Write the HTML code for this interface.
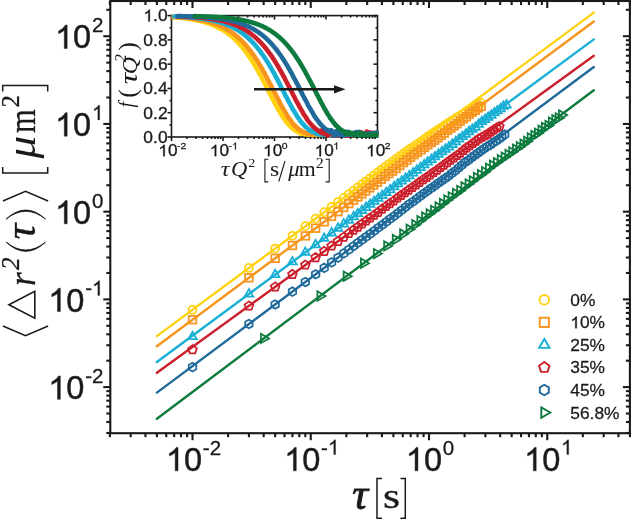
<!DOCTYPE html>
<html><head><meta charset="utf-8"><title>MSD</title>
<style>html,body{margin:0;padding:0;background:#fff}svg{display:block;will-change:transform}</style></head>
<body>
<svg width="631" height="520" viewBox="0 0 631 520">
<rect width="631" height="520" fill="#fff"/>
<line x1="156.9" y1="336.1" x2="593.8" y2="12.6" stroke="#FFD10E" stroke-width="2.4" stroke-linecap="round"/>
<line x1="156.9" y1="346.2" x2="593.8" y2="21.5" stroke="#F7941D" stroke-width="2.4" stroke-linecap="round"/>
<line x1="156.9" y1="362.0" x2="593.8" y2="39.4" stroke="#19AFD4" stroke-width="2.4" stroke-linecap="round"/>
<line x1="156.9" y1="372.7" x2="593.8" y2="55.8" stroke="#CB1F2C" stroke-width="2.4" stroke-linecap="round"/>
<line x1="156.9" y1="392.6" x2="593.8" y2="67.0" stroke="#1F6A9A" stroke-width="2.4" stroke-linecap="round"/>
<line x1="156.9" y1="418.7" x2="593.8" y2="90.3" stroke="#0D7A3E" stroke-width="2.4" stroke-linecap="round"/>
<g fill="none" stroke="#FFD10E" stroke-width="1.75" stroke-linejoin="miter">
<circle cx="192.50" cy="309.74" r="3.98"/>
<circle cx="248.92" cy="267.96" r="3.98"/>
<circle cx="275.15" cy="248.54" r="3.98"/>
<circle cx="292.43" cy="235.75" r="3.98"/>
<circle cx="305.34" cy="226.19" r="3.98"/>
<circle cx="315.64" cy="218.56" r="3.98"/>
<circle cx="324.22" cy="212.21" r="3.98"/>
<circle cx="331.57" cy="206.77" r="3.98"/>
<circle cx="338.00" cy="202.02" r="3.98"/>
<circle cx="343.71" cy="197.81" r="3.98"/>
<circle cx="348.85" cy="194.02" r="3.98"/>
<circle cx="353.52" cy="190.57" r="3.98"/>
<circle cx="357.81" cy="187.32" r="3.98"/>
<circle cx="361.79" cy="184.41" r="3.98"/>
<circle cx="365.74" cy="181.52" r="3.98"/>
<circle cx="369.65" cy="178.64" r="3.98"/>
<circle cx="373.53" cy="175.64" r="3.98"/>
<circle cx="377.38" cy="172.67" r="3.98"/>
<circle cx="381.19" cy="169.79" r="3.98"/>
<circle cx="384.96" cy="166.99" r="3.98"/>
<circle cx="388.71" cy="164.28" r="3.98"/>
<circle cx="392.42" cy="161.56" r="3.98"/>
<circle cx="396.09" cy="158.93" r="3.98"/>
<circle cx="399.73" cy="156.21" r="3.98"/>
<circle cx="403.34" cy="153.65" r="3.98"/>
<circle cx="406.92" cy="151.14" r="3.98"/>
<circle cx="410.47" cy="148.53" r="3.98"/>
<circle cx="413.98" cy="146.30" r="3.98"/>
<circle cx="417.47" cy="143.91" r="3.98"/>
<circle cx="420.92" cy="141.66" r="3.98"/>
<circle cx="424.34" cy="139.14" r="3.98"/>
<circle cx="427.73" cy="136.68" r="3.98"/>
<circle cx="431.09" cy="134.34" r="3.98"/>
<circle cx="434.42" cy="132.09" r="3.98"/>
<circle cx="437.72" cy="130.02" r="3.98"/>
<circle cx="440.99" cy="127.90" r="3.98"/>
<circle cx="444.24" cy="125.68" r="3.98"/>
<circle cx="447.45" cy="123.42" r="3.98"/>
<circle cx="450.63" cy="121.31" r="3.98"/>
<circle cx="453.79" cy="119.61" r="3.98"/>
<circle cx="456.92" cy="117.47" r="3.98"/>
<circle cx="460.02" cy="115.62" r="3.98"/>
<circle cx="463.09" cy="113.83" r="3.98"/>
<circle cx="466.13" cy="111.63" r="3.98"/>
<circle cx="469.15" cy="109.88" r="3.98"/>
<circle cx="472.14" cy="108.44" r="3.98"/>
<circle cx="475.10" cy="106.18" r="3.98"/>
<circle cx="478.04" cy="104.45" r="3.98"/>
<circle cx="480.95" cy="102.81" r="3.98"/>
</g>
<g fill="none" stroke="#F7941D" stroke-width="1.75" stroke-linejoin="miter">
<rect x="188.68" y="315.92" width="7.64" height="7.64"/>
<rect x="245.10" y="273.99" width="7.64" height="7.64"/>
<rect x="271.34" y="254.50" width="7.64" height="7.64"/>
<rect x="288.61" y="241.66" width="7.64" height="7.64"/>
<rect x="301.52" y="232.06" width="7.64" height="7.64"/>
<rect x="311.83" y="224.40" width="7.64" height="7.64"/>
<rect x="320.41" y="218.03" width="7.64" height="7.64"/>
<rect x="327.75" y="212.57" width="7.64" height="7.64"/>
<rect x="334.18" y="207.82" width="7.64" height="7.64"/>
<rect x="339.89" y="203.59" width="7.64" height="7.64"/>
<rect x="345.03" y="199.73" width="7.64" height="7.64"/>
<rect x="349.71" y="196.28" width="7.64" height="7.64"/>
<rect x="353.99" y="193.07" width="7.64" height="7.64"/>
<rect x="357.98" y="190.08" width="7.64" height="7.64"/>
<rect x="361.93" y="187.07" width="7.64" height="7.64"/>
<rect x="365.85" y="184.11" width="7.64" height="7.64"/>
<rect x="369.74" y="181.20" width="7.64" height="7.64"/>
<rect x="373.59" y="178.46" width="7.64" height="7.64"/>
<rect x="377.40" y="175.46" width="7.64" height="7.64"/>
<rect x="381.18" y="172.55" width="7.64" height="7.64"/>
<rect x="384.93" y="169.83" width="7.64" height="7.64"/>
<rect x="388.64" y="167.26" width="7.64" height="7.64"/>
<rect x="392.33" y="164.59" width="7.64" height="7.64"/>
<rect x="395.97" y="161.66" width="7.64" height="7.64"/>
<rect x="399.59" y="158.70" width="7.64" height="7.64"/>
<rect x="403.17" y="156.16" width="7.64" height="7.64"/>
<rect x="406.72" y="153.48" width="7.64" height="7.64"/>
<rect x="410.24" y="150.78" width="7.64" height="7.64"/>
<rect x="413.73" y="148.41" width="7.64" height="7.64"/>
<rect x="417.19" y="146.05" width="7.64" height="7.64"/>
<rect x="420.62" y="143.53" width="7.64" height="7.64"/>
<rect x="424.01" y="141.05" width="7.64" height="7.64"/>
<rect x="427.38" y="138.62" width="7.64" height="7.64"/>
<rect x="430.71" y="136.40" width="7.64" height="7.64"/>
<rect x="434.02" y="133.99" width="7.64" height="7.64"/>
<rect x="437.29" y="131.58" width="7.64" height="7.64"/>
<rect x="440.54" y="129.20" width="7.64" height="7.64"/>
<rect x="443.76" y="126.43" width="7.64" height="7.64"/>
<rect x="446.95" y="124.33" width="7.64" height="7.64"/>
<rect x="450.11" y="122.17" width="7.64" height="7.64"/>
<rect x="453.24" y="119.94" width="7.64" height="7.64"/>
<rect x="456.35" y="117.20" width="7.64" height="7.64"/>
<rect x="459.42" y="114.87" width="7.64" height="7.64"/>
<rect x="462.47" y="112.91" width="7.64" height="7.64"/>
<rect x="465.50" y="110.35" width="7.64" height="7.64"/>
<rect x="468.49" y="108.25" width="7.64" height="7.64"/>
<rect x="471.46" y="106.47" width="7.64" height="7.64"/>
<rect x="474.40" y="104.10" width="7.64" height="7.64"/>
<rect x="477.32" y="102.53" width="7.64" height="7.64"/>
</g>
<g fill="none" stroke="#19AFD4" stroke-width="1.75" stroke-linejoin="miter">
<polygon points="192.50,331.73 188.19,339.20 196.81,339.20"/>
<polygon points="248.92,289.07 244.61,296.54 253.23,296.54"/>
<polygon points="275.15,269.70 270.84,277.17 279.47,277.17"/>
<polygon points="292.43,256.94 288.12,264.41 296.75,264.41"/>
<polygon points="305.34,247.41 301.03,254.88 309.65,254.88"/>
<polygon points="315.64,239.81 311.33,247.28 319.96,247.28"/>
<polygon points="324.22,233.47 319.91,240.94 328.54,240.94"/>
<polygon points="331.57,228.05 327.26,235.52 335.89,235.52"/>
<polygon points="338.00,223.32 333.69,230.79 342.31,230.79"/>
<polygon points="343.71,219.10 339.40,226.57 348.03,226.57"/>
<polygon points="348.85,215.28 344.54,222.75 353.17,222.75"/>
<polygon points="353.52,211.87 349.21,219.34 357.84,219.34"/>
<polygon points="357.81,208.77 353.49,216.24 362.12,216.24"/>
<polygon points="361.97,205.67 357.65,213.14 366.28,213.14"/>
<polygon points="366.09,202.54 361.78,210.01 370.40,210.01"/>
<polygon points="370.18,199.51 365.87,206.98 374.50,206.98"/>
<polygon points="374.24,196.50 369.93,203.97 378.56,203.97"/>
<polygon points="378.27,193.51 373.96,200.98 382.58,200.98"/>
<polygon points="382.26,190.69 377.95,198.16 386.58,198.16"/>
<polygon points="386.23,187.66 381.91,195.13 390.54,195.13"/>
<polygon points="390.16,184.89 385.84,192.36 394.47,192.36"/>
<polygon points="394.05,181.86 389.74,189.33 398.37,189.33"/>
<polygon points="397.92,178.92 393.61,186.39 402.23,186.39"/>
<polygon points="401.76,176.19 397.44,183.66 406.07,183.66"/>
<polygon points="405.56,173.52 401.25,180.99 409.87,180.99"/>
<polygon points="409.33,170.83 405.02,178.30 413.65,178.30"/>
<polygon points="413.08,168.08 408.76,175.55 417.39,175.55"/>
<polygon points="416.79,165.32 412.48,172.79 421.10,172.79"/>
<polygon points="420.47,162.59 416.16,170.06 424.79,170.06"/>
<polygon points="424.13,159.95 419.81,167.42 428.44,167.42"/>
<polygon points="427.75,157.21 423.44,164.68 432.06,164.68"/>
<polygon points="431.35,154.57 427.03,162.04 435.66,162.04"/>
<polygon points="434.91,152.00 430.60,159.47 439.22,159.47"/>
<polygon points="438.45,149.34 434.14,156.81 442.76,156.81"/>
<polygon points="441.96,146.86 437.64,154.33 446.27,154.33"/>
<polygon points="445.44,144.34 441.12,151.81 449.75,151.81"/>
<polygon points="448.89,142.12 444.58,149.59 453.20,149.59"/>
<polygon points="452.31,139.53 448.00,147.00 456.63,147.00"/>
<polygon points="455.71,136.82 451.40,144.29 460.02,144.29"/>
<polygon points="459.08,134.18 454.77,141.65 463.39,141.65"/>
<polygon points="462.42,131.66 458.11,139.13 466.73,139.13"/>
<polygon points="465.74,129.37 461.42,136.84 470.05,136.84"/>
<polygon points="469.02,126.80 464.71,134.27 473.34,134.27"/>
<polygon points="472.28,124.44 467.97,131.91 476.60,131.91"/>
<polygon points="475.52,122.45 471.21,129.92 479.83,129.92"/>
<polygon points="478.73,119.35 474.42,126.82 483.04,126.82"/>
<polygon points="481.91,116.77 477.60,124.24 486.23,124.24"/>
<polygon points="485.07,114.60 480.76,122.07 489.38,122.07"/>
<polygon points="488.20,112.47 483.89,119.94 492.51,119.94"/>
<polygon points="491.31,110.30 487.00,117.77 495.62,117.77"/>
<polygon points="494.39,107.96 490.08,115.43 498.70,115.43"/>
<polygon points="497.45,105.96 493.13,113.43 501.76,113.43"/>
<polygon points="500.48,103.85 496.17,111.32 504.79,111.32"/>
<polygon points="503.49,101.51 499.17,108.98 507.80,108.98"/>
<polygon points="506.47,100.09 502.16,107.56 510.78,107.56"/>
</g>
<g fill="none" stroke="#CB1F2C" stroke-width="1.75" stroke-linejoin="miter">
<polygon points="192.50,345.11 188.16,348.27 189.82,353.37 195.18,353.37 196.84,348.27"/>
<polygon points="248.92,301.39 244.58,304.54 246.24,309.65 251.60,309.65 253.26,304.54"/>
<polygon points="275.15,282.36 270.81,285.52 272.47,290.62 277.84,290.62 279.49,285.52"/>
<polygon points="292.43,269.83 288.09,272.98 289.75,278.09 295.12,278.09 296.77,272.98"/>
<polygon points="305.34,260.47 301.00,263.62 302.66,268.72 308.02,268.72 309.68,263.62"/>
<polygon points="315.64,252.99 311.30,256.15 312.96,261.25 318.33,261.25 319.99,256.15"/>
<polygon points="324.22,246.77 319.88,249.92 321.54,255.03 326.91,255.03 328.57,249.92"/>
<polygon points="331.57,241.43 327.23,244.59 328.89,249.69 334.26,249.69 335.91,244.59"/>
<polygon points="338.00,236.75 333.66,239.90 335.32,245.00 340.68,245.00 342.34,239.90"/>
<polygon points="343.71,232.59 339.37,235.74 341.03,240.85 346.40,240.85 348.05,235.74"/>
<polygon points="348.85,228.89 344.51,232.04 346.17,237.15 351.54,237.15 353.19,232.04"/>
<polygon points="353.52,225.53 349.18,228.69 350.84,233.79 356.21,233.79 357.87,228.69"/>
<polygon points="357.81,222.49 353.46,225.65 355.12,230.75 360.49,230.75 362.15,225.65"/>
<polygon points="361.94,219.40 357.59,222.56 359.25,227.66 364.62,227.66 366.28,222.56"/>
<polygon points="366.03,216.42 361.68,219.57 363.34,224.67 368.71,224.67 370.37,219.57"/>
<polygon points="370.08,213.46 365.74,216.61 367.40,221.71 372.76,221.71 374.42,216.61"/>
<polygon points="374.10,210.59 369.75,213.75 371.41,218.85 376.78,218.85 378.44,213.75"/>
<polygon points="378.08,207.79 373.73,210.95 375.39,216.05 380.76,216.05 382.42,210.95"/>
<polygon points="382.02,204.69 377.68,207.85 379.34,212.95 384.70,212.95 386.36,207.85"/>
<polygon points="385.92,201.98 381.58,205.14 383.24,210.24 388.61,210.24 390.27,205.14"/>
<polygon points="389.80,199.04 385.45,202.19 387.11,207.29 392.48,207.29 394.14,202.19"/>
<polygon points="393.63,196.35 389.29,199.51 390.95,204.61 396.31,204.61 397.97,199.51"/>
<polygon points="397.43,193.44 393.09,196.59 394.75,201.70 400.11,201.70 401.77,196.59"/>
<polygon points="401.20,190.77 396.85,193.92 398.51,199.02 403.88,199.02 405.54,193.92"/>
<polygon points="404.93,188.23 400.59,191.39 402.24,196.49 407.61,196.49 409.27,191.39"/>
<polygon points="408.62,185.53 404.28,188.69 405.94,193.79 411.31,193.79 412.96,188.69"/>
<polygon points="412.29,182.91 407.94,186.06 409.60,191.16 414.97,191.16 416.63,186.06"/>
<polygon points="415.91,180.38 411.57,183.54 413.23,188.64 418.60,188.64 420.26,183.54"/>
<polygon points="419.51,177.78 415.17,180.93 416.83,186.04 422.19,186.04 423.85,180.93"/>
<polygon points="423.07,175.16 418.73,178.31 420.39,183.42 425.76,183.42 427.41,178.31"/>
<polygon points="426.60,172.83 422.26,175.98 423.92,181.09 429.29,181.09 430.94,175.98"/>
<polygon points="430.10,170.41 425.76,173.56 427.42,178.67 432.78,178.67 434.44,173.56"/>
<polygon points="433.56,167.77 429.22,170.92 430.88,176.03 436.25,176.03 437.91,170.92"/>
<polygon points="437.00,165.71 432.66,168.86 434.31,173.97 439.68,173.97 441.34,168.86"/>
<polygon points="440.40,162.90 436.06,166.06 437.72,171.16 443.08,171.16 444.74,166.06"/>
<polygon points="443.77,160.56 439.43,163.71 441.09,168.82 446.45,168.82 448.11,163.71"/>
<polygon points="447.11,158.00 442.77,161.15 444.43,166.26 449.79,166.26 451.45,161.15"/>
<polygon points="450.42,155.56 446.08,158.71 447.74,163.82 453.10,163.82 454.76,158.71"/>
<polygon points="453.70,153.27 449.36,156.42 451.02,161.53 456.38,161.53 458.04,156.42"/>
<polygon points="456.95,150.88 452.61,154.04 454.26,159.14 459.63,159.14 461.29,154.04"/>
<polygon points="460.17,148.62 455.82,151.77 457.48,156.87 462.85,156.87 464.51,151.77"/>
<polygon points="463.35,145.89 459.01,149.04 460.67,154.14 466.04,154.14 467.70,149.04"/>
<polygon points="466.51,143.25 462.17,146.40 463.83,151.51 469.20,151.51 470.86,146.40"/>
<polygon points="469.65,141.21 465.30,144.36 466.96,149.46 472.33,149.46 473.99,144.36"/>
<polygon points="472.75,138.84 468.41,142.00 470.06,147.10 475.43,147.10 477.09,142.00"/>
<polygon points="475.82,136.56 471.48,139.72 473.14,144.82 478.51,144.82 480.16,139.72"/>
<polygon points="478.87,134.25 474.53,137.40 476.18,142.51 481.55,142.51 483.21,137.40"/>
<polygon points="481.88,132.71 477.54,135.87 479.20,140.97 484.57,140.97 486.23,135.87"/>
<polygon points="484.87,131.01 480.53,134.16 482.19,139.27 487.56,139.27 489.22,134.16"/>
<polygon points="487.84,129.49 483.50,132.65 485.15,137.75 490.52,137.75 492.18,132.65"/>
<polygon points="490.77,127.31 486.43,130.47 488.09,135.57 493.46,135.57 495.11,130.47"/>
<polygon points="493.68,125.48 489.34,128.63 491.00,133.73 496.36,133.73 498.02,128.63"/>
<polygon points="496.56,123.36 492.22,126.51 493.88,131.62 499.25,131.62 500.90,126.51"/>
<polygon points="499.42,121.86 495.08,125.02 496.73,130.12 502.10,130.12 503.76,125.02"/>
</g>
<g fill="none" stroke="#1F6A9A" stroke-width="1.75" stroke-linejoin="miter">
<polygon points="192.50,362.75 188.76,364.91 188.76,369.23 192.50,371.39 196.24,369.23 196.24,364.91"/>
<polygon points="248.92,319.71 245.18,321.86 245.18,326.18 248.92,328.34 252.66,326.18 252.66,321.86"/>
<polygon points="275.15,300.16 271.42,302.31 271.42,306.63 275.15,308.79 278.89,306.63 278.89,302.31"/>
<polygon points="292.43,287.28 288.70,289.44 288.70,293.75 292.43,295.91 296.17,293.75 296.17,289.44"/>
<polygon points="305.34,277.66 301.60,279.82 301.60,284.13 305.34,286.29 309.08,284.13 309.08,279.82"/>
<polygon points="315.64,269.98 311.91,272.14 311.91,276.45 315.64,278.61 319.38,276.45 319.38,272.14"/>
<polygon points="324.22,263.59 320.49,265.74 320.49,270.06 324.22,272.22 327.96,270.06 327.96,265.74"/>
<polygon points="331.57,258.11 327.84,260.27 327.84,264.58 331.57,266.74 335.31,264.58 335.31,260.27"/>
<polygon points="338.00,253.32 334.26,255.48 334.26,259.79 338.00,261.95 341.74,259.79 341.74,255.48"/>
<polygon points="343.71,249.07 339.97,251.23 339.97,255.54 343.71,257.70 347.45,255.54 347.45,251.23"/>
<polygon points="348.85,245.25 345.11,247.41 345.11,251.73 348.85,253.89 352.59,251.73 352.59,247.41"/>
<polygon points="353.52,241.83 349.79,243.99 349.79,248.30 353.52,250.46 357.26,248.30 357.26,243.99"/>
<polygon points="357.81,238.59 354.07,240.75 354.07,245.06 357.81,247.22 361.54,245.06 361.54,240.75"/>
<polygon points="361.98,235.53 358.24,237.69 358.24,242.01 361.98,244.17 365.72,242.01 365.72,237.69"/>
<polygon points="366.12,232.53 362.38,234.69 362.38,239.01 366.12,241.16 369.85,239.01 369.85,234.69"/>
<polygon points="370.22,229.55 366.48,231.71 366.48,236.03 370.22,238.19 373.95,236.03 373.95,231.71"/>
<polygon points="374.28,226.48 370.54,228.64 370.54,232.96 374.28,235.12 378.02,232.96 378.02,228.64"/>
<polygon points="378.31,223.40 374.57,225.56 374.57,229.87 378.31,232.03 382.04,229.87 382.04,225.56"/>
<polygon points="382.30,220.50 378.56,222.65 378.56,226.97 382.30,229.13 386.04,226.97 386.04,222.65"/>
<polygon points="386.25,217.53 382.52,219.69 382.52,224.00 386.25,226.16 389.99,224.00 389.99,219.69"/>
<polygon points="390.18,214.60 386.44,216.75 386.44,221.07 390.18,223.23 393.91,221.07 393.91,216.75"/>
<polygon points="394.06,211.83 390.33,213.98 390.33,218.30 394.06,220.46 397.80,218.30 397.80,213.98"/>
<polygon points="397.92,208.88 394.18,211.04 394.18,215.36 397.92,217.51 401.65,215.36 401.65,211.04"/>
<polygon points="401.73,205.73 398.00,207.89 398.00,212.21 401.73,214.36 405.47,212.21 405.47,207.89"/>
<polygon points="405.52,202.88 401.78,205.03 401.78,209.35 405.52,211.51 409.26,209.35 409.26,205.03"/>
<polygon points="409.27,199.86 405.53,202.02 405.53,206.33 409.27,208.49 413.01,206.33 413.01,202.02"/>
<polygon points="412.99,197.26 409.25,199.41 409.25,203.73 412.99,205.89 416.72,203.73 416.72,199.41"/>
<polygon points="416.67,194.59 412.93,196.74 412.93,201.06 416.67,203.22 420.41,201.06 420.41,196.74"/>
<polygon points="420.32,191.79 416.59,193.95 416.59,198.26 420.32,200.42 424.06,198.26 424.06,193.95"/>
<polygon points="423.94,189.12 420.21,191.28 420.21,195.59 423.94,197.75 427.68,195.59 427.68,191.28"/>
<polygon points="427.53,186.60 423.79,188.76 423.79,193.08 427.53,195.24 431.27,193.08 431.27,188.76"/>
<polygon points="431.09,183.97 427.35,186.12 427.35,190.44 431.09,192.60 434.83,190.44 434.83,186.12"/>
<polygon points="434.61,181.56 430.88,183.72 430.88,188.04 434.61,190.20 438.35,188.04 438.35,183.72"/>
<polygon points="438.11,178.91 434.37,181.06 434.37,185.38 438.11,187.54 441.84,185.38 441.84,181.06"/>
<polygon points="441.57,176.48 437.83,178.64 437.83,182.96 441.57,185.12 445.31,182.96 445.31,178.64"/>
<polygon points="445.00,174.15 441.26,176.31 441.26,180.62 445.00,182.78 448.74,180.62 448.74,176.31"/>
<polygon points="448.40,171.83 444.67,173.98 444.67,178.30 448.40,180.46 452.14,178.30 452.14,173.98"/>
<polygon points="451.78,169.04 448.04,171.20 448.04,175.51 451.78,177.67 455.51,175.51 455.51,171.20"/>
<polygon points="455.12,166.64 451.38,168.80 451.38,173.11 455.12,175.27 458.85,173.11 458.85,168.80"/>
<polygon points="458.43,163.67 454.69,165.82 454.69,170.14 458.43,172.30 462.17,170.14 462.17,165.82"/>
<polygon points="461.71,160.97 457.97,163.12 457.97,167.44 461.71,169.60 465.45,167.44 465.45,163.12"/>
<polygon points="464.97,158.13 461.23,160.29 461.23,164.61 464.97,166.77 468.70,164.61 468.70,160.29"/>
<polygon points="468.19,156.08 464.45,158.23 464.45,162.55 468.19,164.71 471.93,162.55 471.93,158.23"/>
<polygon points="471.39,153.45 467.65,155.60 467.65,159.92 471.39,162.08 475.13,159.92 475.13,155.60"/>
<polygon points="474.56,151.18 470.82,153.34 470.82,157.65 474.56,159.81 478.29,157.65 478.29,153.34"/>
<polygon points="477.70,148.91 473.96,151.07 473.96,155.38 477.70,157.54 481.43,155.38 481.43,151.07"/>
<polygon points="480.81,146.72 477.07,148.88 477.07,153.20 480.81,155.35 484.55,153.20 484.55,148.88"/>
<polygon points="483.89,144.42 480.16,146.58 480.16,150.89 483.89,153.05 487.63,150.89 487.63,146.58"/>
<polygon points="486.95,142.38 483.21,144.54 483.21,148.85 486.95,151.01 490.69,148.85 490.69,144.54"/>
<polygon points="489.98,140.76 486.24,142.92 486.24,147.23 489.98,149.39 493.72,147.23 493.72,142.92"/>
<polygon points="492.99,138.62 489.25,140.77 489.25,145.09 492.99,147.25 496.72,145.09 496.72,140.77"/>
<polygon points="495.96,136.64 492.22,138.80 492.22,143.12 495.96,145.27 499.70,143.12 499.70,138.80"/>
<polygon points="498.91,134.81 495.18,136.97 495.18,141.29 498.91,143.44 502.65,141.29 502.65,136.97"/>
<polygon points="501.84,132.64 498.10,134.79 498.10,139.11 501.84,141.27 505.58,139.11 505.58,134.79"/>
<polygon points="504.74,130.21 501.00,132.37 501.00,136.68 504.74,138.84 508.47,136.68 508.47,132.37"/>
</g>
<g fill="none" stroke="#0D7A3E" stroke-width="1.75" stroke-linejoin="miter">
<polygon points="269.09,338.43 260.99,333.75 260.99,343.10"/>
<polygon points="325.51,296.02 317.41,291.34 317.41,300.70"/>
<polygon points="351.75,276.27 343.65,271.59 343.65,280.95"/>
<polygon points="369.03,263.23 360.93,258.55 360.93,267.90"/>
<polygon points="381.93,253.60 373.83,248.92 373.83,258.27"/>
<polygon points="392.24,245.92 384.14,241.25 384.14,250.60"/>
<polygon points="400.82,239.47 392.72,234.79 392.72,244.15"/>
<polygon points="408.17,234.04 400.07,229.36 400.07,238.71"/>
<polygon points="414.59,229.21 406.49,224.53 406.49,233.89"/>
<polygon points="420.31,224.73 412.21,220.05 412.21,229.41"/>
<polygon points="425.45,220.64 417.35,215.96 417.35,225.32"/>
<polygon points="430.12,217.07 422.02,212.39 422.02,221.75"/>
<polygon points="434.65,213.87 426.55,209.19 426.55,218.55"/>
<polygon points="439.13,210.42 431.03,205.74 431.03,215.10"/>
<polygon points="443.58,206.95 435.48,202.27 435.48,211.62"/>
<polygon points="447.99,203.54 439.89,198.87 439.89,208.22"/>
<polygon points="452.36,200.03 444.26,195.36 444.26,204.71"/>
<polygon points="456.69,196.86 448.59,192.19 448.59,201.54"/>
<polygon points="460.99,193.49 452.89,188.81 452.89,198.16"/>
<polygon points="465.25,190.49 457.15,185.81 457.15,195.16"/>
<polygon points="469.47,186.88 461.37,182.20 461.37,191.56"/>
<polygon points="473.65,183.97 465.55,179.30 465.55,188.65"/>
<polygon points="477.79,180.83 469.69,176.15 469.69,185.51"/>
<polygon points="481.90,177.40 473.80,172.72 473.80,182.08"/>
<polygon points="485.98,174.71 477.88,170.03 477.88,179.38"/>
<polygon points="490.02,171.73 481.92,167.05 481.92,176.40"/>
<polygon points="494.02,168.25 485.92,163.57 485.92,172.93"/>
<polygon points="497.99,165.23 489.89,160.56 489.89,169.91"/>
<polygon points="501.92,162.56 493.82,157.89 493.82,167.24"/>
<polygon points="505.82,159.66 497.72,154.98 497.72,164.34"/>
<polygon points="509.68,157.13 501.58,152.45 501.58,161.81"/>
<polygon points="513.51,154.55 505.41,149.88 505.41,159.23"/>
<polygon points="517.31,151.93 509.21,147.25 509.21,156.60"/>
<polygon points="521.07,149.19 512.97,144.51 512.97,153.86"/>
<polygon points="524.80,146.77 516.70,142.09 516.70,151.44"/>
<polygon points="528.50,144.10 520.40,139.42 520.40,148.77"/>
<polygon points="532.17,141.37 524.07,136.69 524.07,146.04"/>
<polygon points="535.80,137.82 527.70,133.15 527.70,142.50"/>
<polygon points="539.40,135.44 531.30,130.76 531.30,140.12"/>
<polygon points="542.97,133.17 534.87,128.49 534.87,137.85"/>
<polygon points="546.51,130.29 538.41,125.62 538.41,134.97"/>
<polygon points="550.02,127.42 541.92,122.74 541.92,132.09"/>
<polygon points="553.50,125.47 545.40,120.80 545.40,130.15"/>
<polygon points="556.94,122.09 548.84,117.41 548.84,126.76"/>
<polygon points="560.36,119.69 552.26,115.01 552.26,124.37"/>
<polygon points="563.75,118.02 555.65,113.34 555.65,122.69"/>
<polygon points="567.10,114.94 559.00,110.26 559.00,119.62"/>
</g>
<g stroke="#1a1a1a" stroke-width="2.1" fill="none">
<rect x="110.3" y="1.0" width="519.6" height="432.2"/>
<line x1="109.85" y1="433.2" x2="109.85" y2="437.2"/>
<line x1="109.85" y1="1.0" x2="109.85" y2="5.0"/>
<line x1="130.67" y1="433.2" x2="130.67" y2="437.2"/>
<line x1="130.67" y1="1.0" x2="130.67" y2="5.0"/>
<line x1="145.44" y1="433.2" x2="145.44" y2="437.2"/>
<line x1="145.44" y1="1.0" x2="145.44" y2="5.0"/>
<line x1="156.90" y1="433.2" x2="156.90" y2="437.2"/>
<line x1="156.90" y1="1.0" x2="156.90" y2="5.0"/>
<line x1="166.27" y1="433.2" x2="166.27" y2="437.2"/>
<line x1="166.27" y1="1.0" x2="166.27" y2="5.0"/>
<line x1="174.18" y1="433.2" x2="174.18" y2="437.2"/>
<line x1="174.18" y1="1.0" x2="174.18" y2="5.0"/>
<line x1="181.04" y1="433.2" x2="181.04" y2="437.2"/>
<line x1="181.04" y1="1.0" x2="181.04" y2="5.0"/>
<line x1="187.09" y1="433.2" x2="187.09" y2="437.2"/>
<line x1="187.09" y1="1.0" x2="187.09" y2="5.0"/>
<line x1="192.50" y1="433.2" x2="192.50" y2="440.2"/>
<line x1="192.50" y1="1.0" x2="192.50" y2="8.0"/>
<line x1="228.10" y1="433.2" x2="228.10" y2="437.2"/>
<line x1="228.10" y1="1.0" x2="228.10" y2="5.0"/>
<line x1="248.92" y1="433.2" x2="248.92" y2="437.2"/>
<line x1="248.92" y1="1.0" x2="248.92" y2="5.0"/>
<line x1="263.69" y1="433.2" x2="263.69" y2="437.2"/>
<line x1="263.69" y1="1.0" x2="263.69" y2="5.0"/>
<line x1="275.15" y1="433.2" x2="275.15" y2="437.2"/>
<line x1="275.15" y1="1.0" x2="275.15" y2="5.0"/>
<line x1="284.52" y1="433.2" x2="284.52" y2="437.2"/>
<line x1="284.52" y1="1.0" x2="284.52" y2="5.0"/>
<line x1="292.43" y1="433.2" x2="292.43" y2="437.2"/>
<line x1="292.43" y1="1.0" x2="292.43" y2="5.0"/>
<line x1="299.29" y1="433.2" x2="299.29" y2="437.2"/>
<line x1="299.29" y1="1.0" x2="299.29" y2="5.0"/>
<line x1="305.34" y1="433.2" x2="305.34" y2="437.2"/>
<line x1="305.34" y1="1.0" x2="305.34" y2="5.0"/>
<line x1="310.75" y1="433.2" x2="310.75" y2="440.2"/>
<line x1="310.75" y1="1.0" x2="310.75" y2="8.0"/>
<line x1="346.35" y1="433.2" x2="346.35" y2="437.2"/>
<line x1="346.35" y1="1.0" x2="346.35" y2="5.0"/>
<line x1="367.17" y1="433.2" x2="367.17" y2="437.2"/>
<line x1="367.17" y1="1.0" x2="367.17" y2="5.0"/>
<line x1="381.94" y1="433.2" x2="381.94" y2="437.2"/>
<line x1="381.94" y1="1.0" x2="381.94" y2="5.0"/>
<line x1="393.40" y1="433.2" x2="393.40" y2="437.2"/>
<line x1="393.40" y1="1.0" x2="393.40" y2="5.0"/>
<line x1="402.77" y1="433.2" x2="402.77" y2="437.2"/>
<line x1="402.77" y1="1.0" x2="402.77" y2="5.0"/>
<line x1="410.68" y1="433.2" x2="410.68" y2="437.2"/>
<line x1="410.68" y1="1.0" x2="410.68" y2="5.0"/>
<line x1="417.54" y1="433.2" x2="417.54" y2="437.2"/>
<line x1="417.54" y1="1.0" x2="417.54" y2="5.0"/>
<line x1="423.59" y1="433.2" x2="423.59" y2="437.2"/>
<line x1="423.59" y1="1.0" x2="423.59" y2="5.0"/>
<line x1="429.00" y1="433.2" x2="429.00" y2="440.2"/>
<line x1="429.00" y1="1.0" x2="429.00" y2="8.0"/>
<line x1="464.60" y1="433.2" x2="464.60" y2="437.2"/>
<line x1="464.60" y1="1.0" x2="464.60" y2="5.0"/>
<line x1="485.42" y1="433.2" x2="485.42" y2="437.2"/>
<line x1="485.42" y1="1.0" x2="485.42" y2="5.0"/>
<line x1="500.19" y1="433.2" x2="500.19" y2="437.2"/>
<line x1="500.19" y1="1.0" x2="500.19" y2="5.0"/>
<line x1="511.65" y1="433.2" x2="511.65" y2="437.2"/>
<line x1="511.65" y1="1.0" x2="511.65" y2="5.0"/>
<line x1="521.02" y1="433.2" x2="521.02" y2="437.2"/>
<line x1="521.02" y1="1.0" x2="521.02" y2="5.0"/>
<line x1="528.93" y1="433.2" x2="528.93" y2="437.2"/>
<line x1="528.93" y1="1.0" x2="528.93" y2="5.0"/>
<line x1="535.79" y1="433.2" x2="535.79" y2="437.2"/>
<line x1="535.79" y1="1.0" x2="535.79" y2="5.0"/>
<line x1="541.84" y1="433.2" x2="541.84" y2="437.2"/>
<line x1="541.84" y1="1.0" x2="541.84" y2="5.0"/>
<line x1="547.25" y1="433.2" x2="547.25" y2="440.2"/>
<line x1="547.25" y1="1.0" x2="547.25" y2="8.0"/>
<line x1="582.85" y1="433.2" x2="582.85" y2="437.2"/>
<line x1="582.85" y1="1.0" x2="582.85" y2="5.0"/>
<line x1="603.67" y1="433.2" x2="603.67" y2="437.2"/>
<line x1="603.67" y1="1.0" x2="603.67" y2="5.0"/>
<line x1="618.44" y1="433.2" x2="618.44" y2="437.2"/>
<line x1="618.44" y1="1.0" x2="618.44" y2="5.0"/>
<line x1="629.90" y1="433.2" x2="629.90" y2="437.2"/>
<line x1="629.90" y1="1.0" x2="629.90" y2="5.0"/>
<line x1="110.3" y1="432.97" x2="106.3" y2="432.97"/>
<line x1="629.9" y1="432.97" x2="625.9" y2="432.97"/>
<line x1="110.3" y1="422.01" x2="106.3" y2="422.01"/>
<line x1="629.9" y1="422.01" x2="625.9" y2="422.01"/>
<line x1="110.3" y1="413.51" x2="106.3" y2="413.51"/>
<line x1="629.9" y1="413.51" x2="625.9" y2="413.51"/>
<line x1="110.3" y1="406.56" x2="106.3" y2="406.56"/>
<line x1="629.9" y1="406.56" x2="625.9" y2="406.56"/>
<line x1="110.3" y1="400.69" x2="106.3" y2="400.69"/>
<line x1="629.9" y1="400.69" x2="625.9" y2="400.69"/>
<line x1="110.3" y1="395.60" x2="106.3" y2="395.60"/>
<line x1="629.9" y1="395.60" x2="625.9" y2="395.60"/>
<line x1="110.3" y1="391.11" x2="106.3" y2="391.11"/>
<line x1="629.9" y1="391.11" x2="625.9" y2="391.11"/>
<line x1="110.3" y1="387.10" x2="103.3" y2="387.10"/>
<line x1="629.9" y1="387.10" x2="622.9" y2="387.10"/>
<line x1="110.3" y1="360.69" x2="106.3" y2="360.69"/>
<line x1="629.9" y1="360.69" x2="625.9" y2="360.69"/>
<line x1="110.3" y1="345.25" x2="106.3" y2="345.25"/>
<line x1="629.9" y1="345.25" x2="625.9" y2="345.25"/>
<line x1="110.3" y1="334.29" x2="106.3" y2="334.29"/>
<line x1="629.9" y1="334.29" x2="625.9" y2="334.29"/>
<line x1="110.3" y1="325.79" x2="106.3" y2="325.79"/>
<line x1="629.9" y1="325.79" x2="625.9" y2="325.79"/>
<line x1="110.3" y1="318.84" x2="106.3" y2="318.84"/>
<line x1="629.9" y1="318.84" x2="625.9" y2="318.84"/>
<line x1="110.3" y1="312.97" x2="106.3" y2="312.97"/>
<line x1="629.9" y1="312.97" x2="625.9" y2="312.97"/>
<line x1="110.3" y1="307.88" x2="106.3" y2="307.88"/>
<line x1="629.9" y1="307.88" x2="625.9" y2="307.88"/>
<line x1="110.3" y1="303.39" x2="106.3" y2="303.39"/>
<line x1="629.9" y1="303.39" x2="625.9" y2="303.39"/>
<line x1="110.3" y1="299.38" x2="103.3" y2="299.38"/>
<line x1="629.9" y1="299.38" x2="622.9" y2="299.38"/>
<line x1="110.3" y1="272.97" x2="106.3" y2="272.97"/>
<line x1="629.9" y1="272.97" x2="625.9" y2="272.97"/>
<line x1="110.3" y1="257.53" x2="106.3" y2="257.53"/>
<line x1="629.9" y1="257.53" x2="625.9" y2="257.53"/>
<line x1="110.3" y1="246.57" x2="106.3" y2="246.57"/>
<line x1="629.9" y1="246.57" x2="625.9" y2="246.57"/>
<line x1="110.3" y1="238.07" x2="106.3" y2="238.07"/>
<line x1="629.9" y1="238.07" x2="625.9" y2="238.07"/>
<line x1="110.3" y1="231.12" x2="106.3" y2="231.12"/>
<line x1="629.9" y1="231.12" x2="625.9" y2="231.12"/>
<line x1="110.3" y1="225.25" x2="106.3" y2="225.25"/>
<line x1="629.9" y1="225.25" x2="625.9" y2="225.25"/>
<line x1="110.3" y1="220.16" x2="106.3" y2="220.16"/>
<line x1="629.9" y1="220.16" x2="625.9" y2="220.16"/>
<line x1="110.3" y1="215.67" x2="106.3" y2="215.67"/>
<line x1="629.9" y1="215.67" x2="625.9" y2="215.67"/>
<line x1="110.3" y1="211.66" x2="103.3" y2="211.66"/>
<line x1="629.9" y1="211.66" x2="622.9" y2="211.66"/>
<line x1="110.3" y1="185.25" x2="106.3" y2="185.25"/>
<line x1="629.9" y1="185.25" x2="625.9" y2="185.25"/>
<line x1="110.3" y1="169.81" x2="106.3" y2="169.81"/>
<line x1="629.9" y1="169.81" x2="625.9" y2="169.81"/>
<line x1="110.3" y1="158.85" x2="106.3" y2="158.85"/>
<line x1="629.9" y1="158.85" x2="625.9" y2="158.85"/>
<line x1="110.3" y1="150.35" x2="106.3" y2="150.35"/>
<line x1="629.9" y1="150.35" x2="625.9" y2="150.35"/>
<line x1="110.3" y1="143.40" x2="106.3" y2="143.40"/>
<line x1="629.9" y1="143.40" x2="625.9" y2="143.40"/>
<line x1="110.3" y1="137.53" x2="106.3" y2="137.53"/>
<line x1="629.9" y1="137.53" x2="625.9" y2="137.53"/>
<line x1="110.3" y1="132.44" x2="106.3" y2="132.44"/>
<line x1="629.9" y1="132.44" x2="625.9" y2="132.44"/>
<line x1="110.3" y1="127.95" x2="106.3" y2="127.95"/>
<line x1="629.9" y1="127.95" x2="625.9" y2="127.95"/>
<line x1="110.3" y1="123.94" x2="103.3" y2="123.94"/>
<line x1="629.9" y1="123.94" x2="622.9" y2="123.94"/>
<line x1="110.3" y1="97.53" x2="106.3" y2="97.53"/>
<line x1="629.9" y1="97.53" x2="625.9" y2="97.53"/>
<line x1="110.3" y1="82.09" x2="106.3" y2="82.09"/>
<line x1="629.9" y1="82.09" x2="625.9" y2="82.09"/>
<line x1="110.3" y1="71.13" x2="106.3" y2="71.13"/>
<line x1="629.9" y1="71.13" x2="625.9" y2="71.13"/>
<line x1="110.3" y1="62.63" x2="106.3" y2="62.63"/>
<line x1="629.9" y1="62.63" x2="625.9" y2="62.63"/>
<line x1="110.3" y1="55.68" x2="106.3" y2="55.68"/>
<line x1="629.9" y1="55.68" x2="625.9" y2="55.68"/>
<line x1="110.3" y1="49.81" x2="106.3" y2="49.81"/>
<line x1="629.9" y1="49.81" x2="625.9" y2="49.81"/>
<line x1="110.3" y1="44.72" x2="106.3" y2="44.72"/>
<line x1="629.9" y1="44.72" x2="625.9" y2="44.72"/>
<line x1="110.3" y1="40.23" x2="106.3" y2="40.23"/>
<line x1="629.9" y1="40.23" x2="625.9" y2="40.23"/>
<line x1="110.3" y1="36.22" x2="103.3" y2="36.22"/>
<line x1="629.9" y1="36.22" x2="622.9" y2="36.22"/>
<line x1="110.3" y1="9.81" x2="106.3" y2="9.81"/>
<line x1="629.9" y1="9.81" x2="625.9" y2="9.81"/>
</g>
<g font-family="Liberation Sans, sans-serif" fill="#1a1a1a" stroke="#1a1a1a" stroke-linejoin="round">
<g transform="translate(165.92,470.80) scale(1.0,1)" stroke-width="0.45"><path transform="translate(0.00,0) scale(0.01587,-0.01587)" d="M763 0H583V1147Q518 1085 412.5 1023Q307 961 223 930V1104Q374 1175 487 1276Q600 1377 647 1472H763Z" stroke-width="28.4"/><text x="18.07" y="0" font-size="32.5">0</text></g><g transform="translate(202.86,454.60) scale(1.0,1)" stroke-width="0.3"><text x="0.00" y="0" font-size="20.5">-</text><text x="6.83" y="0" font-size="20.5">2</text></g>
<g transform="translate(284.17,470.80) scale(1.0,1)" stroke-width="0.45"><path transform="translate(0.00,0) scale(0.01587,-0.01587)" d="M763 0H583V1147Q518 1085 412.5 1023Q307 961 223 930V1104Q374 1175 487 1276Q600 1377 647 1472H763Z" stroke-width="28.4"/><text x="18.07" y="0" font-size="32.5">0</text></g><g transform="translate(321.11,454.60) scale(1.0,1)" stroke-width="0.3"><text x="0.00" y="0" font-size="20.5">-</text><path transform="translate(6.83,0) scale(0.01001,-0.01001)" d="M763 0H583V1147Q518 1085 412.5 1023Q307 961 223 930V1104Q374 1175 487 1276Q600 1377 647 1472H763Z" stroke-width="30.0"/></g>
<g transform="translate(405.83,470.80) scale(1.0,1)" stroke-width="0.45"><path transform="translate(0.00,0) scale(0.01587,-0.01587)" d="M763 0H583V1147Q518 1085 412.5 1023Q307 961 223 930V1104Q374 1175 487 1276Q600 1377 647 1472H763Z" stroke-width="28.4"/><text x="18.07" y="0" font-size="32.5">0</text></g><g transform="translate(442.77,454.60) scale(1.0,1)" stroke-width="0.3"><text x="0.00" y="0" font-size="20.5">0</text></g>
<g transform="translate(524.08,470.80) scale(1.0,1)" stroke-width="0.45"><path transform="translate(0.00,0) scale(0.01587,-0.01587)" d="M763 0H583V1147Q518 1085 412.5 1023Q307 961 223 930V1104Q374 1175 487 1276Q600 1377 647 1472H763Z" stroke-width="28.4"/><text x="18.07" y="0" font-size="32.5">0</text></g><g transform="translate(561.02,454.60) scale(1.0,1)" stroke-width="0.3"><path transform="translate(0.00,0) scale(0.01001,-0.01001)" d="M763 0H583V1147Q518 1085 412.5 1023Q307 961 223 930V1104Q374 1175 487 1276Q600 1377 647 1472H763Z" stroke-width="30.0"/></g>
<g transform="translate(48.24,399.30) scale(1.0,1)" stroke-width="0.45"><path transform="translate(0.00,0) scale(0.01587,-0.01587)" d="M763 0H583V1147Q518 1085 412.5 1023Q307 961 223 930V1104Q374 1175 487 1276Q600 1377 647 1472H763Z" stroke-width="28.4"/><text x="18.07" y="0" font-size="32.5">0</text></g><g transform="translate(85.18,383.10) scale(1.0,1)" stroke-width="0.3"><text x="0.00" y="0" font-size="20.5">-</text><text x="6.83" y="0" font-size="20.5">2</text></g>
<g transform="translate(48.24,311.58) scale(1.0,1)" stroke-width="0.45"><path transform="translate(0.00,0) scale(0.01587,-0.01587)" d="M763 0H583V1147Q518 1085 412.5 1023Q307 961 223 930V1104Q374 1175 487 1276Q600 1377 647 1472H763Z" stroke-width="28.4"/><text x="18.07" y="0" font-size="32.5">0</text></g><g transform="translate(85.18,295.38) scale(1.0,1)" stroke-width="0.3"><text x="0.00" y="0" font-size="20.5">-</text><path transform="translate(6.83,0) scale(0.01001,-0.01001)" d="M763 0H583V1147Q518 1085 412.5 1023Q307 961 223 930V1104Q374 1175 487 1276Q600 1377 647 1472H763Z" stroke-width="30.0"/></g>
<g transform="translate(55.06,223.86) scale(1.0,1)" stroke-width="0.45"><path transform="translate(0.00,0) scale(0.01587,-0.01587)" d="M763 0H583V1147Q518 1085 412.5 1023Q307 961 223 930V1104Q374 1175 487 1276Q600 1377 647 1472H763Z" stroke-width="28.4"/><text x="18.07" y="0" font-size="32.5">0</text></g><g transform="translate(92.00,207.66) scale(1.0,1)" stroke-width="0.3"><text x="0.00" y="0" font-size="20.5">0</text></g>
<g transform="translate(55.06,136.14) scale(1.0,1)" stroke-width="0.45"><path transform="translate(0.00,0) scale(0.01587,-0.01587)" d="M763 0H583V1147Q518 1085 412.5 1023Q307 961 223 930V1104Q374 1175 487 1276Q600 1377 647 1472H763Z" stroke-width="28.4"/><text x="18.07" y="0" font-size="32.5">0</text></g><g transform="translate(92.00,119.94) scale(1.0,1)" stroke-width="0.3"><path transform="translate(0.00,0) scale(0.01001,-0.01001)" d="M763 0H583V1147Q518 1085 412.5 1023Q307 961 223 930V1104Q374 1175 487 1276Q600 1377 647 1472H763Z" stroke-width="30.0"/></g>
<g transform="translate(55.06,48.42) scale(1.0,1)" stroke-width="0.45"><path transform="translate(0.00,0) scale(0.01587,-0.01587)" d="M763 0H583V1147Q518 1085 412.5 1023Q307 961 223 930V1104Q374 1175 487 1276Q600 1377 647 1472H763Z" stroke-width="28.4"/><text x="18.07" y="0" font-size="32.5">0</text></g><g transform="translate(92.00,32.22) scale(1.0,1)" stroke-width="0.3"><text x="0.00" y="0" font-size="20.5">2</text></g>
</g>
<g font-family="Liberation Serif, serif" fill="#1a1a1a" stroke="#1a1a1a" stroke-width="0.3">
<text x="352.3" y="509.3" font-size="44" font-style="italic" stroke-width="0.85">τ</text>
<text transform="translate(383.0,508) scale(1.22,1)" font-size="36">s</text>
<path d="M382,478.4 H377 V518.2 H382 M400.5,478.4 H405.3 V518.2 H400.5" fill="none" stroke-width="1.5"/>
<g transform="translate(35.2,337.5) rotate(-90)">
<path d="M11.5,-32.3 L1.9,-9.7 L11.5,12.9 M136.5,-32.3 L146.2,-9.7 L136.5,12.9" fill="none" stroke-width="1.5"/>
<polygon points="19.3,-0.4 46.1,-0.4 32.7,-26.3" fill="none" stroke-width="1.6"/>
<text transform="translate(51.5,0) scale(0.95,1)" font-size="37" font-style="italic">r</text>
<text x="67.5" y="-16.5" font-size="25" font-style="italic">2</text>
<path d="M95.3,-29 Q77,-9.4 95.3,10.2 Q79.6,-9.4 95.3,-29 Z M118.5,-29 Q136.5,-9.4 118.5,10.2 Q133.9,-9.4 118.5,-29 Z" stroke-width="0.9" stroke-linejoin="round"/>
<text x="98" y="0" font-size="44" font-style="italic">τ</text>
<path d="M170.5,-32.5 H164.5 V12.5 H170.5 M246,-32.5 H252 V12.5 H246" fill="none" stroke-width="1.5"/>
<text transform="translate(179,0) scale(1.1,1)" font-size="41" font-style="italic" stroke="none">μ</text>
<text transform="translate(204.5,0) scale(0.8,1)" font-size="38">m</text>
<text x="230" y="-16.5" font-size="25">2</text>
</g>
</g>
<g font-family="Liberation Sans, sans-serif" fill="#1a1a1a" stroke="#1a1a1a" stroke-linejoin="round">
<g transform="translate(570.30,305.80) scale(1.06,1)" stroke-width="0.25"><text x="0.00" y="0" font-size="16.4">0</text><text x="9.12" y="0" font-size="16.4">%</text></g>
<g transform="translate(570.30,328.35) scale(1.06,1)" stroke-width="0.25"><path transform="translate(0.00,0) scale(0.00801,-0.00801)" d="M763 0H583V1147Q518 1085 412.5 1023Q307 961 223 930V1104Q374 1175 487 1276Q600 1377 647 1472H763Z" stroke-width="31.2"/><text x="9.12" y="0" font-size="16.4">0</text><text x="18.24" y="0" font-size="16.4">%</text></g>
<g transform="translate(570.30,350.90) scale(1.06,1)" stroke-width="0.25"><text x="0.00" y="0" font-size="16.4">2</text><text x="9.12" y="0" font-size="16.4">5</text><text x="18.24" y="0" font-size="16.4">%</text></g>
<g transform="translate(570.30,373.45) scale(1.06,1)" stroke-width="0.25"><text x="0.00" y="0" font-size="16.4">3</text><text x="9.12" y="0" font-size="16.4">5</text><text x="18.24" y="0" font-size="16.4">%</text></g>
<g transform="translate(570.30,396.00) scale(1.06,1)" stroke-width="0.25"><text x="0.00" y="0" font-size="16.4">4</text><text x="9.12" y="0" font-size="16.4">5</text><text x="18.24" y="0" font-size="16.4">%</text></g>
<g transform="translate(570.30,418.55) scale(1.06,1)" stroke-width="0.25"><text x="0.00" y="0" font-size="16.4">5</text><text x="9.12" y="0" font-size="16.4">6</text><text x="18.24" y="0" font-size="16.4">.</text><text x="22.80" y="0" font-size="16.4">8</text><text x="31.91" y="0" font-size="16.4">%</text></g>
</g>
<g fill="none" stroke="#FFD10E" stroke-width="1.9"><circle cx="544.30" cy="299.80" r="4.80"/></g>
<g fill="none" stroke="#F7941D" stroke-width="1.9"><rect x="539.70" y="317.75" width="9.20" height="9.20"/></g>
<g fill="none" stroke="#19AFD4" stroke-width="1.9"><polygon points="544.30,338.90 539.10,347.90 549.50,347.90"/></g>
<g fill="none" stroke="#CB1F2C" stroke-width="1.9"><polygon points="544.30,361.95 539.07,365.75 541.07,371.90 547.53,371.90 549.53,365.75"/></g>
<g fill="none" stroke="#1F6A9A" stroke-width="1.9"><polygon points="544.30,384.80 539.80,387.40 539.80,392.60 544.30,395.20 548.80,392.60 548.80,387.40"/></g>
<g fill="none" stroke="#0D7A3E" stroke-width="1.9"><polygon points="550.30,412.55 541.30,407.35 541.30,417.75"/></g>
<rect x="171.5" y="15.6" width="206.0" height="121.4" fill="#fff"/>
<clipPath id="ic"><rect x="171.5" y="12.6" width="207.0" height="125.30000000000001"/></clipPath>
<g stroke="#1a1a1a" stroke-width="1.6" fill="none">
<rect x="171.5" y="15.6" width="206.0" height="121.4"/>
<line x1="171.50" y1="15.6" x2="171.50" y2="19.6"/>
<line x1="187.00" y1="15.6" x2="187.00" y2="17.6"/>
<line x1="196.07" y1="15.6" x2="196.07" y2="17.6"/>
<line x1="202.51" y1="15.6" x2="202.51" y2="17.6"/>
<line x1="207.50" y1="15.6" x2="207.50" y2="17.6"/>
<line x1="211.57" y1="15.6" x2="211.57" y2="17.6"/>
<line x1="215.02" y1="15.6" x2="215.02" y2="17.6"/>
<line x1="218.01" y1="15.6" x2="218.01" y2="17.6"/>
<line x1="220.64" y1="15.6" x2="220.64" y2="17.6"/>
<line x1="223.00" y1="15.6" x2="223.00" y2="19.6"/>
<line x1="238.50" y1="15.6" x2="238.50" y2="17.6"/>
<line x1="247.57" y1="15.6" x2="247.57" y2="17.6"/>
<line x1="254.01" y1="15.6" x2="254.01" y2="17.6"/>
<line x1="259.00" y1="15.6" x2="259.00" y2="17.6"/>
<line x1="263.07" y1="15.6" x2="263.07" y2="17.6"/>
<line x1="266.52" y1="15.6" x2="266.52" y2="17.6"/>
<line x1="269.51" y1="15.6" x2="269.51" y2="17.6"/>
<line x1="272.14" y1="15.6" x2="272.14" y2="17.6"/>
<line x1="274.50" y1="15.6" x2="274.50" y2="19.6"/>
<line x1="290.00" y1="15.6" x2="290.00" y2="17.6"/>
<line x1="299.07" y1="15.6" x2="299.07" y2="17.6"/>
<line x1="305.51" y1="15.6" x2="305.51" y2="17.6"/>
<line x1="310.50" y1="15.6" x2="310.50" y2="17.6"/>
<line x1="314.57" y1="15.6" x2="314.57" y2="17.6"/>
<line x1="318.02" y1="15.6" x2="318.02" y2="17.6"/>
<line x1="321.01" y1="15.6" x2="321.01" y2="17.6"/>
<line x1="323.64" y1="15.6" x2="323.64" y2="17.6"/>
<line x1="326.00" y1="15.6" x2="326.00" y2="19.6"/>
<line x1="341.50" y1="15.6" x2="341.50" y2="17.6"/>
<line x1="350.57" y1="15.6" x2="350.57" y2="17.6"/>
<line x1="357.01" y1="15.6" x2="357.01" y2="17.6"/>
<line x1="362.00" y1="15.6" x2="362.00" y2="17.6"/>
<line x1="366.07" y1="15.6" x2="366.07" y2="17.6"/>
<line x1="369.52" y1="15.6" x2="369.52" y2="17.6"/>
<line x1="372.51" y1="15.6" x2="372.51" y2="17.6"/>
<line x1="375.14" y1="15.6" x2="375.14" y2="17.6"/>
<line x1="171.5" y1="137.00" x2="167.5" y2="137.00"/>
<line x1="377.5" y1="137.00" x2="373.5" y2="137.00"/>
<line x1="171.5" y1="124.86" x2="169.5" y2="124.86"/>
<line x1="377.5" y1="124.86" x2="375.5" y2="124.86"/>
<line x1="171.5" y1="112.72" x2="167.5" y2="112.72"/>
<line x1="377.5" y1="112.72" x2="373.5" y2="112.72"/>
<line x1="171.5" y1="100.58" x2="169.5" y2="100.58"/>
<line x1="377.5" y1="100.58" x2="375.5" y2="100.58"/>
<line x1="171.5" y1="88.44" x2="167.5" y2="88.44"/>
<line x1="377.5" y1="88.44" x2="373.5" y2="88.44"/>
<line x1="171.5" y1="76.30" x2="169.5" y2="76.30"/>
<line x1="377.5" y1="76.30" x2="375.5" y2="76.30"/>
<line x1="171.5" y1="64.16" x2="167.5" y2="64.16"/>
<line x1="377.5" y1="64.16" x2="373.5" y2="64.16"/>
<line x1="171.5" y1="52.02" x2="169.5" y2="52.02"/>
<line x1="377.5" y1="52.02" x2="375.5" y2="52.02"/>
<line x1="171.5" y1="39.88" x2="167.5" y2="39.88"/>
<line x1="377.5" y1="39.88" x2="373.5" y2="39.88"/>
<line x1="171.5" y1="27.74" x2="169.5" y2="27.74"/>
<line x1="377.5" y1="27.74" x2="375.5" y2="27.74"/>
<line x1="171.5" y1="15.60" x2="167.5" y2="15.60"/>
<line x1="377.5" y1="15.60" x2="373.5" y2="15.60"/>
</g>
<g clip-path="url(#ic)" fill="none" stroke-width="4.6" stroke-linejoin="round" stroke-linecap="round">
<polyline stroke="#FFD10E" points="172.01,17.18 172.53,17.22 173.04,17.25 173.56,17.29 174.07,17.33 174.59,17.37 175.10,17.41 175.62,17.45 176.13,17.50 176.65,17.54 177.16,17.59 177.68,17.63 178.19,17.68 178.71,17.73 179.22,17.78 179.74,17.83 180.25,17.88 180.77,17.93 181.28,17.98 181.80,18.04 182.31,18.09 182.83,18.15 183.34,18.21 183.86,18.27 184.38,18.33 184.89,18.40 185.41,18.46 185.92,18.53 186.44,18.59 186.95,18.66 187.47,18.73 187.98,18.80 188.50,18.88 189.01,18.95 189.53,19.03 190.04,19.11 190.56,19.19 191.07,19.27 191.59,19.35 192.10,19.44 192.62,19.53 193.13,19.62 193.64,19.71 194.16,19.80 194.68,19.90 195.19,20.00 195.70,20.10 196.22,20.20 196.74,20.31 197.25,20.42 197.76,20.52 198.28,20.64 198.80,20.75 199.31,20.87 199.82,20.99 200.34,21.11 200.85,21.24 201.37,21.37 201.88,21.50 202.40,21.63 202.91,21.77 203.43,21.91 203.94,22.05 204.46,22.20 204.97,22.34 205.49,22.50 206.00,22.65 206.52,22.81 207.03,22.97 207.55,23.14 208.06,23.31 208.58,23.48 209.09,23.66 209.61,23.84 210.12,24.03 210.64,24.22 211.16,24.41 211.67,24.61 212.19,24.81 212.70,25.01 213.22,25.22 213.73,25.44 214.25,25.66 214.76,25.88 215.28,26.11 215.79,26.34 216.31,26.58 216.82,26.83 217.34,27.07 217.85,27.33 218.37,27.59 218.88,27.85 219.40,28.12 219.91,28.40 220.43,28.68 220.94,28.97 221.45,29.26 221.97,29.56 222.49,29.86 223.00,30.17 223.51,30.49 224.03,30.81 224.55,31.14 225.06,31.48 225.57,31.82 226.09,32.17 226.61,32.53 227.12,32.90 227.63,33.27 228.15,33.65 228.67,34.03 229.18,34.43 229.69,34.83 230.21,35.24 230.72,35.65 231.24,36.08 231.75,36.51 232.27,36.95 232.78,37.40 233.30,37.86 233.81,38.32 234.33,38.80 234.84,39.28 235.36,39.77 235.88,40.27 236.39,40.78 236.91,41.30 237.42,41.82 237.94,42.36 238.45,42.91 238.97,43.46 239.48,44.03 240.00,44.60 240.51,45.18 241.03,45.78 241.54,46.38 242.06,46.99 242.57,47.62 243.08,48.25 243.60,48.89 244.12,49.55 244.63,50.21 245.14,50.88 245.66,51.57 246.18,52.26 246.69,52.96 247.20,53.68 247.72,54.40 248.24,55.13 248.75,55.88 249.26,56.63 249.78,57.40 250.30,58.17 250.81,58.96 251.32,59.75 251.84,60.56 252.36,61.37 252.87,62.19 253.38,63.03 253.90,63.87 254.42,64.72 254.93,65.59 255.44,66.46 255.96,67.34 256.48,68.23 256.99,69.12 257.50,70.03 258.02,70.94 258.53,71.86 259.05,72.79 259.56,73.73 260.08,74.67 260.60,75.62 261.11,76.46 261.62,77.20 262.14,78.54 262.65,79.39 263.17,80.31 263.69,81.62 264.20,82.46 264.72,83.39 265.23,84.29 265.75,85.45 266.26,86.48 266.77,87.63 267.29,88.52 267.81,89.30 268.32,90.46 268.83,91.64 269.35,92.65 269.87,93.02 270.38,94.30 270.89,95.40 271.41,96.99 271.93,97.40 272.44,98.43 272.95,99.20 273.47,100.41 273.99,101.48 274.50,102.35 275.01,103.77 275.53,104.19 276.04,105.27 276.56,106.40 277.07,106.97 277.59,107.80 278.11,109.30 278.62,110.07 279.13,110.79 279.65,111.69 280.16,112.66 280.68,113.62 281.19,113.89 281.71,114.91 282.23,116.13 282.74,116.95 283.25,117.17 283.77,118.06 284.28,118.66 284.80,119.57 285.31,120.58 285.83,121.07 286.35,122.18 286.86,122.58 287.38,123.09 287.89,123.60 288.40,124.43 288.92,124.90 289.44,125.35 289.95,125.90 290.47,126.38 290.98,126.95 291.50,127.53 292.01,127.79 292.52,128.37 293.04,128.95 293.56,129.32 294.07,129.59 294.59,129.98 295.10,130.28 295.62,130.64 296.13,130.92 296.64,131.27 297.16,131.76 297.68,131.71 298.19,131.85 298.71,132.32 299.22,132.72 299.74,132.68 300.25,132.70 300.76,133.70 301.28,132.84 301.79,133.71 302.31,133.39 302.82,133.60 303.34,133.59 303.86,133.73 304.37,133.74 304.88,134.33 305.40,133.97 305.91,133.97 306.43,134.07 306.94,133.74 307.46,134.46 307.98,133.83 308.49,134.29 309.00,134.55 309.52,134.54 310.03,134.34 310.55,134.64 311.06,134.54 311.58,134.67 312.10,134.54 312.61,134.88 313.12,135.09 313.64,135.24 314.15,134.62 314.67,134.78 315.19,135.12 315.70,134.66 316.22,135.00 316.73,135.23 317.25,134.57 317.76,134.81 318.27,135.23 318.79,135.06 319.31,135.15 319.82,134.75 320.34,134.64 320.85,134.53 321.37,134.93 321.88,135.07 322.39,134.81 322.91,135.20 323.43,134.82 323.94,134.89 324.46,135.00 324.97,134.73 325.49,134.98 326.00,135.48 326.51,134.81 327.03,134.77 327.54,135.15 328.06,134.89 328.57,134.67 329.09,135.02 329.61,134.83 330.12,134.74 330.63,135.14 331.15,134.99 331.66,134.84 332.18,134.79 332.69,134.92 333.21,134.89 333.73,134.79 334.24,135.39 334.75,134.75 335.27,134.25 335.78,134.50 336.30,134.58 336.81,134.85 337.33,135.08 337.85,135.06 338.36,134.30 338.88,134.81 339.39,134.81 339.90,134.75 340.42,134.64 340.94,134.39 341.45,134.81 341.97,134.92 342.48,134.99 343.00,134.93 343.51,134.64 344.02,134.82 344.54,134.62 345.06,134.74 345.57,134.54 346.09,134.26 346.60,134.62 347.12,134.83 347.63,134.38 348.14,135.11 348.66,135.21 349.18,134.93 349.69,134.89 350.21,135.08 350.72,135.16 351.24,134.74 351.75,134.87 352.26,134.78 352.78,134.43 353.29,134.84 353.81,134.99 354.32,134.90 354.84,134.69 355.36,134.31 355.87,134.81 356.38,135.27 356.90,134.77 357.41,134.72 357.93,134.73 358.44,134.63 358.96,135.03 359.48,135.07 359.99,134.66 360.50,134.66 361.02,134.74 361.53,134.84 362.05,134.82 362.56,134.94 363.08,134.63 363.60,134.66 364.11,134.95 364.62,134.85 365.14,134.74 365.65,134.98 366.17,134.82 366.69,134.46 367.20,135.24 367.72,134.85 368.23,134.73 368.75,134.87 369.26,134.95 369.77,135.14 370.29,134.73 370.81,134.71 371.32,134.27 371.84,134.98 372.35,134.68 372.87,135.10 373.38,134.75 373.89,134.86 374.41,134.70 374.93,134.84 375.44,134.56 375.96,134.90 376.47,135.00 376.99,134.63 377.50,134.91"/>
<polyline stroke="#F7941D" points="172.01,16.85 172.53,16.88 173.04,16.91 173.56,16.94 174.07,16.97 174.59,17.01 175.10,17.04 175.62,17.07 176.13,17.11 176.65,17.14 177.16,17.18 177.68,17.21 178.19,17.25 178.71,17.29 179.22,17.33 179.74,17.37 180.25,17.41 180.77,17.45 181.28,17.49 181.80,17.54 182.31,17.58 182.83,17.63 183.34,17.67 183.86,17.72 184.38,17.77 184.89,17.82 185.41,17.87 185.92,17.92 186.44,17.98 186.95,18.03 187.47,18.09 187.98,18.15 188.50,18.20 189.01,18.26 189.53,18.33 190.04,18.39 190.56,18.45 191.07,18.52 191.59,18.59 192.10,18.65 192.62,18.72 193.13,18.80 193.64,18.87 194.16,18.94 194.68,19.02 195.19,19.10 195.70,19.18 196.22,19.26 196.74,19.35 197.25,19.43 197.76,19.52 198.28,19.61 198.80,19.70 199.31,19.79 199.82,19.89 200.34,19.99 200.85,20.09 201.37,20.19 201.88,20.30 202.40,20.40 202.91,20.51 203.43,20.63 203.94,20.74 204.46,20.86 204.97,20.98 205.49,21.10 206.00,21.22 206.52,21.35 207.03,21.48 207.55,21.62 208.06,21.75 208.58,21.89 209.09,22.03 209.61,22.18 210.12,22.33 210.64,22.48 211.16,22.64 211.67,22.79 212.19,22.96 212.70,23.12 213.22,23.29 213.73,23.47 214.25,23.64 214.76,23.82 215.28,24.01 215.79,24.20 216.31,24.39 216.82,24.59 217.34,24.79 217.85,24.99 218.37,25.20 218.88,25.42 219.40,25.63 219.91,25.86 220.43,26.09 220.94,26.32 221.45,26.56 221.97,26.80 222.49,27.05 223.00,27.30 223.51,27.56 224.03,27.82 224.55,28.09 225.06,28.37 225.57,28.65 226.09,28.93 226.61,29.23 227.12,29.52 227.63,29.83 228.15,30.14 228.67,30.46 229.18,30.78 229.69,31.11 230.21,31.44 230.72,31.79 231.24,32.14 231.75,32.49 232.27,32.86 232.78,33.23 233.30,33.60 233.81,33.99 234.33,34.38 234.84,34.78 235.36,35.19 235.88,35.61 236.39,36.03 236.91,36.46 237.42,36.90 237.94,37.35 238.45,37.81 238.97,38.27 239.48,38.74 240.00,39.23 240.51,39.72 241.03,40.22 241.54,40.72 242.06,41.24 242.57,41.77 243.08,42.30 243.60,42.85 244.12,43.40 244.63,43.97 245.14,44.54 245.66,45.12 246.18,45.71 246.69,46.32 247.20,46.93 247.72,47.55 248.24,48.18 248.75,48.82 249.26,49.48 249.78,50.14 250.30,50.81 250.81,51.49 251.32,52.18 251.84,52.89 252.36,53.60 252.87,54.32 253.38,55.05 253.90,55.80 254.42,56.55 254.93,57.31 255.44,58.09 255.96,58.87 256.48,59.67 256.99,60.47 257.50,61.28 258.02,62.11 258.53,62.94 259.05,63.78 259.56,64.63 260.08,65.49 260.60,66.36 261.11,67.24 261.62,68.13 262.14,69.03 262.65,69.93 263.17,70.84 263.69,71.76 264.20,72.69 264.72,73.63 265.23,74.57 265.75,75.52 266.26,76.49 266.77,77.41 267.29,78.68 267.81,79.38 268.32,80.49 268.83,81.28 269.35,82.55 269.87,83.69 270.38,84.32 270.89,85.28 271.41,86.43 271.93,87.18 272.44,88.40 272.95,89.47 273.47,90.28 273.99,91.66 274.50,92.51 275.01,93.40 275.53,94.25 276.04,95.44 276.56,96.35 277.07,97.53 277.59,98.35 278.11,99.09 278.62,100.51 279.13,100.94 279.65,102.46 280.16,103.31 280.68,104.24 281.19,105.04 281.71,106.40 282.23,107.49 282.74,107.92 283.25,108.80 283.77,109.74 284.28,110.27 284.80,111.59 285.31,112.45 285.83,113.18 286.35,114.12 286.86,114.71 287.38,116.05 287.89,116.69 288.40,118.03 288.92,118.02 289.44,118.98 289.95,119.47 290.47,119.96 290.98,121.04 291.50,121.77 292.01,122.47 292.52,123.17 293.04,123.75 293.56,124.12 294.07,124.81 294.59,125.36 295.10,125.95 295.62,126.27 296.13,126.85 296.64,127.45 297.16,127.77 297.68,128.36 298.19,128.97 298.71,128.90 299.22,129.46 299.74,130.09 300.25,130.07 300.76,130.54 301.28,131.20 301.79,130.92 302.31,131.44 302.82,131.60 303.34,131.98 303.86,132.62 304.37,132.46 304.88,132.59 305.40,132.70 305.91,133.05 306.43,133.31 306.94,133.04 307.46,133.53 307.98,133.71 308.49,133.35 309.00,133.57 309.52,133.92 310.03,134.03 310.55,133.56 311.06,134.36 311.58,134.54 312.10,134.21 312.61,134.28 313.12,134.27 313.64,134.67 314.15,134.64 314.67,134.56 315.19,134.48 315.70,134.64 316.22,134.36 316.73,135.00 317.25,134.17 317.76,134.73 318.27,134.50 318.79,134.81 319.31,134.73 319.82,135.03 320.34,134.78 320.85,134.85 321.37,134.68 321.88,135.01 322.39,134.81 322.91,134.80 323.43,134.52 323.94,135.00 324.46,135.41 324.97,134.98 325.49,134.68 326.00,134.70 326.51,135.26 327.03,134.52 327.54,134.62 328.06,134.70 328.57,134.50 329.09,134.60 329.61,134.64 330.12,134.84 330.63,134.71 331.15,135.09 331.66,134.77 332.18,134.71 332.69,134.82 333.21,134.91 333.73,134.60 334.24,134.88 334.75,134.88 335.27,134.73 335.78,134.71 336.30,135.06 336.81,134.88 337.33,134.62 337.85,134.98 338.36,135.03 338.88,134.93 339.39,134.97 339.90,134.28 340.42,134.92 340.94,134.84 341.45,134.29 341.97,135.21 342.48,135.23 343.00,134.96 343.51,134.51 344.02,135.15 344.54,134.53 345.06,135.01 345.57,134.69 346.09,135.36 346.60,134.60 347.12,134.60 347.63,134.77 348.14,134.20 348.66,134.89 349.18,134.60 349.69,134.54 350.21,134.75 350.72,134.78 351.24,135.20 351.75,134.74 352.26,134.77 352.78,135.05 353.29,134.68 353.81,134.90 354.32,134.51 354.84,134.81 355.36,134.75 355.87,135.06 356.38,134.96 356.90,135.10 357.41,135.13 357.93,135.06 358.44,134.48 358.96,134.99 359.48,134.78 359.99,134.96 360.50,134.93 361.02,134.64 361.53,134.59 362.05,134.88 362.56,134.88 363.08,134.86 363.60,134.90 364.11,135.05 364.62,134.69 365.14,134.31 365.65,134.86 366.17,134.58 366.69,135.42 367.20,134.69 367.72,134.68 368.23,134.61 368.75,134.81 369.26,134.66 369.77,134.76 370.29,135.36 370.81,134.77 371.32,135.03 371.84,134.66 372.35,134.51 372.87,135.04 373.38,134.61 373.89,134.59 374.41,134.97 374.93,134.60 375.44,135.26 375.96,134.21 376.47,134.98 376.99,134.76 377.50,134.50"/>
<polyline stroke="#19AFD4" points="174.07,16.50 174.59,16.52 175.10,16.54 175.62,16.56 176.13,16.59 176.65,16.61 177.16,16.63 177.68,16.66 178.19,16.68 178.71,16.71 179.22,16.73 179.74,16.76 180.25,16.79 180.77,16.81 181.28,16.84 181.80,16.87 182.31,16.90 182.83,16.93 183.34,16.96 183.86,16.99 184.38,17.02 184.89,17.06 185.41,17.09 185.92,17.13 186.44,17.16 186.95,17.20 187.47,17.23 187.98,17.27 188.50,17.31 189.01,17.35 189.53,17.39 190.04,17.43 190.56,17.47 191.07,17.52 191.59,17.56 192.10,17.61 192.62,17.65 193.13,17.70 193.64,17.75 194.16,17.80 194.68,17.85 195.19,17.90 195.70,17.95 196.22,18.01 196.74,18.06 197.25,18.12 197.76,18.18 198.28,18.24 198.80,18.30 199.31,18.36 199.82,18.42 200.34,18.49 200.85,18.56 201.37,18.62 201.88,18.69 202.40,18.76 202.91,18.84 203.43,18.91 203.94,18.99 204.46,19.06 204.97,19.14 205.49,19.23 206.00,19.31 206.52,19.39 207.03,19.48 207.55,19.57 208.06,19.66 208.58,19.75 209.09,19.85 209.61,19.95 210.12,20.04 210.64,20.15 211.16,20.25 211.67,20.36 212.19,20.46 212.70,20.58 213.22,20.69 213.73,20.80 214.25,20.92 214.76,21.04 215.28,21.17 215.79,21.29 216.31,21.42 216.82,21.56 217.34,21.69 217.85,21.83 218.37,21.97 218.88,22.12 219.40,22.26 219.91,22.41 220.43,22.57 220.94,22.72 221.45,22.89 221.97,23.05 222.49,23.22 223.00,23.39 223.51,23.56 224.03,23.74 224.55,23.93 225.06,24.11 225.57,24.30 226.09,24.50 226.61,24.70 227.12,24.90 227.63,25.11 228.15,25.32 228.67,25.54 229.18,25.76 229.69,25.99 230.21,26.22 230.72,26.45 231.24,26.69 231.75,26.94 232.27,27.19 232.78,27.45 233.30,27.71 233.81,27.97 234.33,28.25 234.84,28.52 235.36,28.81 235.88,29.10 236.39,29.39 236.91,29.69 237.42,30.00 237.94,30.32 238.45,30.64 238.97,30.96 239.48,31.30 240.00,31.64 240.51,31.98 241.03,32.34 241.54,32.70 242.06,33.06 242.57,33.44 243.08,33.82 243.60,34.21 244.12,34.61 244.63,35.01 245.14,35.42 245.66,35.84 246.18,36.27 246.69,36.71 247.20,37.15 247.72,37.60 248.24,38.07 248.75,38.53 249.26,39.01 249.78,39.50 250.30,40.00 250.81,40.50 251.32,41.01 251.84,41.53 252.36,42.07 252.87,42.61 253.38,43.16 253.90,43.72 254.42,44.29 254.93,44.86 255.44,45.45 255.96,46.05 256.48,46.66 256.99,47.28 257.50,47.90 258.02,48.54 258.53,49.19 259.05,49.85 259.56,50.51 260.08,51.19 260.60,51.88 261.11,52.58 261.62,53.29 262.14,54.00 262.65,54.73 263.17,55.47 263.69,56.22 264.20,56.98 264.72,57.75 265.23,58.53 265.75,59.32 266.26,60.12 266.77,60.92 267.29,61.74 267.81,62.57 268.32,63.41 268.83,64.26 269.35,65.11 269.87,65.98 270.38,66.85 270.89,67.74 271.41,68.63 271.93,69.53 272.44,70.44 272.95,71.36 273.47,72.28 273.99,73.22 274.50,74.16 275.01,75.10 275.53,76.06 276.04,77.03 276.56,78.18 277.07,78.72 277.59,80.04 278.11,80.88 278.62,81.91 279.13,82.95 279.65,83.83 280.16,85.02 280.68,86.23 281.19,87.30 281.71,88.14 282.23,89.05 282.74,89.93 283.25,90.92 283.77,91.84 284.28,92.93 284.80,94.10 285.31,95.09 285.83,96.36 286.35,97.00 286.86,97.88 287.38,98.87 287.89,99.97 288.40,100.97 288.92,101.74 289.44,102.88 289.95,103.72 290.47,104.70 290.98,105.72 291.50,106.46 292.01,107.73 292.52,108.61 293.04,109.61 293.56,110.50 294.07,110.96 294.59,111.79 295.10,112.97 295.62,113.72 296.13,114.44 296.64,115.32 297.16,116.05 297.68,117.29 298.19,117.95 298.71,118.50 299.22,119.06 299.74,120.02 300.25,120.90 300.76,121.49 301.28,122.21 301.79,122.89 302.31,123.09 302.82,124.09 303.34,124.56 303.86,124.74 304.37,125.46 304.88,126.15 305.40,126.83 305.91,127.14 306.43,127.39 306.94,128.02 307.46,128.34 307.98,128.97 308.49,129.29 309.00,129.80 309.52,130.04 310.03,130.22 310.55,131.04 311.06,131.10 311.58,131.33 312.10,131.75 312.61,131.96 313.12,130.93 313.64,132.17 314.15,131.41 314.67,132.80 315.19,133.00 315.70,133.09 316.22,133.28 316.73,133.96 317.25,133.97 317.76,133.82 318.27,134.43 318.79,133.75 319.31,134.10 319.82,133.69 320.34,134.11 320.85,134.29 321.37,134.38 321.88,134.40 322.39,134.04 322.91,134.39 323.43,135.16 323.94,135.42 324.46,135.74 324.97,135.01 325.49,135.55 326.00,135.15 326.51,134.50 327.03,133.54 327.54,134.64 328.06,133.65 328.57,134.94 329.09,134.59 329.61,135.08 330.12,135.10 330.63,134.04 331.15,135.52 331.66,134.25 332.18,133.68 332.69,133.55 333.21,134.48 333.73,134.68 334.24,134.17 334.75,135.56 335.27,135.15 335.78,134.59 336.30,134.79 336.81,135.08 337.33,134.35 337.85,135.01 338.36,135.17 338.88,134.11 339.39,134.31 339.90,134.20 340.42,135.78 340.94,135.36 341.45,135.23 341.97,134.64 342.48,134.66 343.00,134.41 343.51,134.69 344.02,134.11 344.54,135.90 345.06,134.53 345.57,135.47 346.09,134.91 346.60,134.90 347.12,135.04 347.63,134.15 348.14,133.88 348.66,135.16 349.18,135.21 349.69,135.31 350.21,134.62 350.72,134.71 351.24,134.69 351.75,134.23 352.26,135.73 352.78,134.75 353.29,135.81 353.81,134.80 354.32,135.13 354.84,134.16 355.36,135.34 355.87,134.50 356.38,134.70 356.90,134.34 357.41,134.48 357.93,134.63 358.44,135.15 358.96,134.62 359.48,134.81 359.99,135.17 360.50,135.00 361.02,133.85 361.53,133.57 362.05,134.33 362.56,133.74 363.08,134.88 363.60,134.53 364.11,134.49 364.62,134.94 365.14,135.68 365.65,135.06 366.17,135.27 366.69,134.30 367.20,135.64 367.72,134.28 368.23,135.72 368.75,135.20 369.26,135.03 369.77,134.67 370.29,134.27 370.81,135.24 371.32,135.14 371.84,134.30 372.35,134.62 372.87,135.13 373.38,135.41 373.89,135.26 374.41,135.45 374.93,134.45 375.44,134.71 375.96,136.46 376.47,134.08 376.99,134.25 377.50,134.13"/>
<polyline stroke="#CB1F2C" points="177.68,16.34 178.19,16.36 178.71,16.38 179.22,16.40 179.74,16.41 180.25,16.43 180.77,16.45 181.28,16.47 181.80,16.49 182.31,16.51 182.83,16.53 183.34,16.56 183.86,16.58 184.38,16.60 184.89,16.62 185.41,16.65 185.92,16.67 186.44,16.70 186.95,16.72 187.47,16.75 187.98,16.77 188.50,16.80 189.01,16.83 189.53,16.86 190.04,16.89 190.56,16.92 191.07,16.95 191.59,16.98 192.10,17.01 192.62,17.04 193.13,17.08 193.64,17.11 194.16,17.15 194.68,17.18 195.19,17.22 195.70,17.26 196.22,17.29 196.74,17.33 197.25,17.37 197.76,17.41 198.28,17.46 198.80,17.50 199.31,17.54 199.82,17.59 200.34,17.63 200.85,17.68 201.37,17.73 201.88,17.78 202.40,17.83 202.91,17.88 203.43,17.93 203.94,17.99 204.46,18.04 204.97,18.10 205.49,18.15 206.00,18.21 206.52,18.27 207.03,18.34 207.55,18.40 208.06,18.46 208.58,18.53 209.09,18.60 209.61,18.66 210.12,18.74 210.64,18.81 211.16,18.88 211.67,18.96 212.19,19.03 212.70,19.11 213.22,19.19 213.73,19.28 214.25,19.36 214.76,19.45 215.28,19.53 215.79,19.62 216.31,19.72 216.82,19.81 217.34,19.91 217.85,20.00 218.37,20.11 218.88,20.21 219.40,20.31 219.91,20.42 220.43,20.53 220.94,20.64 221.45,20.76 221.97,20.88 222.49,21.00 223.00,21.12 223.51,21.24 224.03,21.37 224.55,21.50 225.06,21.64 225.57,21.77 226.09,21.91 226.61,22.06 227.12,22.20 227.63,22.35 228.15,22.50 228.67,22.66 229.18,22.82 229.69,22.98 230.21,23.15 230.72,23.32 231.24,23.49 231.75,23.67 232.27,23.85 232.78,24.04 233.30,24.23 233.81,24.42 234.33,24.62 234.84,24.82 235.36,25.03 235.88,25.24 236.39,25.45 236.91,25.67 237.42,25.89 237.94,26.12 238.45,26.36 238.97,26.60 239.48,26.84 240.00,27.09 240.51,27.34 241.03,27.60 241.54,27.87 242.06,28.14 242.57,28.41 243.08,28.69 243.60,28.98 244.12,29.27 244.63,29.57 245.14,29.88 245.66,30.19 246.18,30.51 246.69,30.83 247.20,31.16 247.72,31.50 248.24,31.84 248.75,32.19 249.26,32.55 249.78,32.91 250.30,33.29 250.81,33.67 251.32,34.05 251.84,34.45 252.36,34.85 252.87,35.26 253.38,35.67 253.90,36.10 254.42,36.53 254.93,36.97 255.44,37.42 255.96,37.88 256.48,38.35 256.99,38.82 257.50,39.30 258.02,39.79 258.53,40.30 259.05,40.81 259.56,41.32 260.08,41.85 260.60,42.39 261.11,42.94 261.62,43.49 262.14,44.06 262.65,44.63 263.17,45.21 263.69,45.81 264.20,46.41 264.72,47.03 265.23,47.65 265.75,48.28 266.26,48.93 266.77,49.58 267.29,50.24 267.81,50.92 268.32,51.60 268.83,52.30 269.35,53.00 269.87,53.71 270.38,54.44 270.89,55.17 271.41,55.92 271.93,56.67 272.44,57.44 272.95,58.21 273.47,59.00 273.99,59.79 274.50,60.60 275.01,61.41 275.53,62.24 276.04,63.07 276.56,63.91 277.07,64.77 277.59,65.63 278.11,66.50 278.62,67.38 279.13,68.27 279.65,69.17 280.16,70.07 280.68,70.99 281.19,71.91 281.71,72.84 282.23,73.78 282.74,74.72 283.25,75.67 283.77,76.71 284.28,77.40 284.80,78.42 285.31,79.82 285.83,80.60 286.35,81.77 286.86,82.52 287.38,83.39 287.89,84.68 288.40,85.86 288.92,86.26 289.44,87.43 289.95,88.24 290.47,89.76 290.98,90.33 291.50,91.16 292.01,92.18 292.52,93.59 293.04,94.51 293.56,95.59 294.07,96.39 294.59,97.38 295.10,98.55 295.62,99.80 296.13,100.41 296.64,101.61 297.16,102.38 297.68,103.42 298.19,104.13 298.71,105.17 299.22,106.40 299.74,107.19 300.25,107.86 300.76,109.19 301.28,109.92 301.79,110.67 302.31,111.54 302.82,112.54 303.34,113.72 303.86,114.55 304.37,115.10 304.88,115.88 305.40,116.28 305.91,117.68 306.43,118.08 306.94,118.89 307.46,120.06 307.98,120.61 308.49,121.12 309.00,121.91 309.52,122.51 310.03,123.03 310.55,123.88 311.06,124.24 311.58,125.02 312.10,125.56 312.61,125.90 313.12,126.62 313.64,126.97 314.15,127.21 314.67,127.95 315.19,128.43 315.70,128.69 316.22,129.29 316.73,129.41 317.25,130.21 317.76,130.21 318.27,130.75 318.79,131.11 319.31,130.94 319.82,131.70 320.34,131.48 320.85,131.93 321.37,132.87 321.88,130.42 322.39,132.36 322.91,132.21 323.43,133.27 323.94,132.39 324.46,131.02 324.97,132.52 325.49,134.26 326.00,131.29 326.51,134.59 327.03,135.51 327.54,135.61 328.06,132.08 328.57,134.09 329.09,132.96 329.61,134.16 330.12,133.33 330.63,133.96 331.15,133.90 331.66,133.99 332.18,134.63 332.69,134.04 333.21,133.88 333.73,135.99 334.24,133.40 334.75,134.33 335.27,135.42 335.78,133.98 336.30,136.57 336.81,131.57 337.33,134.37 337.85,134.46 338.36,135.80 338.88,132.46 339.39,133.38 339.90,134.61 340.42,133.18 340.94,133.67 341.45,135.13 341.97,135.30 342.48,134.34 343.00,134.44 343.51,135.92 344.02,133.49 344.54,132.94 345.06,135.76 345.57,133.89 346.09,135.23 346.60,134.04 347.12,134.30 347.63,135.04 348.14,135.94 348.66,135.14 349.18,135.36 349.69,135.72 350.21,135.01 350.72,135.38 351.24,134.83 351.75,134.06 352.26,136.72 352.78,135.20 353.29,136.05 353.81,134.65 354.32,133.25 354.84,133.28 355.36,136.31 355.87,133.85 356.38,134.19 356.90,135.66 357.41,134.91 357.93,134.23 358.44,135.74 358.96,134.48 359.48,134.06 359.99,134.92 360.50,134.17 361.02,134.28 361.53,132.36 362.05,133.17 362.56,134.18 363.08,135.13 363.60,135.03 364.11,133.75 364.62,136.42 365.14,134.78 365.65,135.57 366.17,133.71 366.69,131.51 367.20,134.49 367.72,134.18 368.23,134.74 368.75,132.69 369.26,132.45 369.77,134.30 370.29,133.27 370.81,133.71 371.32,132.79 371.84,133.14 372.35,135.16 372.87,133.07 373.38,134.98 373.89,134.70 374.41,133.23 374.93,136.29 375.44,133.03 375.96,134.62 376.47,134.89 376.99,133.34 377.50,133.17"/>
<polyline stroke="#1F6A9A" points="177.68,16.08 178.19,16.10 178.71,16.11 179.22,16.12 179.74,16.13 180.25,16.14 180.77,16.16 181.28,16.17 181.80,16.18 182.31,16.20 182.83,16.21 183.34,16.22 183.86,16.24 184.38,16.25 184.89,16.27 185.41,16.28 185.92,16.30 186.44,16.32 186.95,16.33 187.47,16.35 187.98,16.37 188.50,16.38 189.01,16.40 189.53,16.42 190.04,16.44 190.56,16.46 191.07,16.48 191.59,16.50 192.10,16.52 192.62,16.54 193.13,16.56 193.64,16.59 194.16,16.61 194.68,16.63 195.19,16.66 195.70,16.68 196.22,16.71 196.74,16.73 197.25,16.76 197.76,16.78 198.28,16.81 198.80,16.84 199.31,16.87 199.82,16.90 200.34,16.93 200.85,16.96 201.37,16.99 201.88,17.02 202.40,17.06 202.91,17.09 203.43,17.12 203.94,17.16 204.46,17.20 204.97,17.23 205.49,17.27 206.00,17.31 206.52,17.35 207.03,17.39 207.55,17.43 208.06,17.47 208.58,17.52 209.09,17.56 209.61,17.60 210.12,17.65 210.64,17.70 211.16,17.75 211.67,17.80 212.19,17.85 212.70,17.90 213.22,17.95 213.73,18.01 214.25,18.06 214.76,18.12 215.28,18.18 215.79,18.24 216.31,18.30 216.82,18.36 217.34,18.42 217.85,18.49 218.37,18.55 218.88,18.62 219.40,18.69 219.91,18.76 220.43,18.83 220.94,18.91 221.45,18.98 221.97,19.06 222.49,19.14 223.00,19.22 223.51,19.31 224.03,19.39 224.55,19.48 225.06,19.57 225.57,19.66 226.09,19.75 226.61,19.85 227.12,19.94 227.63,20.04 228.15,20.14 228.67,20.25 229.18,20.35 229.69,20.46 230.21,20.57 230.72,20.69 231.24,20.80 231.75,20.92 232.27,21.04 232.78,21.16 233.30,21.29 233.81,21.42 234.33,21.55 234.84,21.69 235.36,21.83 235.88,21.97 236.39,22.11 236.91,22.26 237.42,22.41 237.94,22.56 238.45,22.72 238.97,22.88 239.48,23.04 240.00,23.21 240.51,23.38 241.03,23.56 241.54,23.74 242.06,23.92 242.57,24.11 243.08,24.30 243.60,24.49 244.12,24.69 244.63,24.90 245.14,25.10 245.66,25.32 246.18,25.53 246.69,25.75 247.20,25.98 247.72,26.21 248.24,26.45 248.75,26.69 249.26,26.93 249.78,27.18 250.30,27.44 250.81,27.70 251.32,27.97 251.84,28.24 252.36,28.52 252.87,28.80 253.38,29.09 253.90,29.38 254.42,29.69 254.93,29.99 255.44,30.31 255.96,30.63 256.48,30.95 256.99,31.29 257.50,31.63 258.02,31.97 258.53,32.33 259.05,32.69 259.56,33.05 260.08,33.43 260.60,33.81 261.11,34.20 261.62,34.60 262.14,35.00 262.65,35.41 263.17,35.83 263.69,36.26 264.20,36.70 264.72,37.14 265.23,37.59 265.75,38.05 266.26,38.52 266.77,39.00 267.29,39.49 267.81,39.98 268.32,40.48 268.83,41.00 269.35,41.52 269.87,42.05 270.38,42.59 270.89,43.14 271.41,43.70 271.93,44.27 272.44,44.85 272.95,45.44 273.47,46.03 273.99,46.64 274.50,47.26 275.01,47.89 275.53,48.52 276.04,49.17 276.56,49.83 277.07,50.49 277.59,51.17 278.11,51.86 278.62,52.56 279.13,53.26 279.65,53.98 280.16,54.71 280.68,55.45 281.19,56.20 281.71,56.96 282.23,57.73 282.74,58.50 283.25,59.29 283.77,60.09 284.28,60.90 284.80,61.72 285.31,62.55 285.83,63.39 286.35,64.23 286.86,65.09 287.38,65.95 287.89,66.83 288.40,67.71 288.92,68.61 289.44,69.51 289.95,70.42 290.47,71.33 290.98,72.26 291.50,73.19 292.01,74.13 292.52,75.08 293.04,76.03 293.56,77.30 294.07,78.19 294.59,78.88 295.10,80.05 295.62,80.75 296.13,81.88 296.64,83.08 297.16,83.75 297.68,84.71 298.19,86.21 298.71,86.54 299.22,87.79 299.74,88.75 300.25,90.23 300.76,91.03 301.28,91.98 301.79,92.73 302.31,94.20 302.82,95.10 303.34,96.31 303.86,96.99 304.37,97.88 304.88,99.24 305.40,100.03 305.91,100.82 306.43,101.60 306.94,102.74 307.46,103.88 307.98,105.00 308.49,105.90 309.00,106.79 309.52,107.58 310.03,108.53 310.55,109.13 311.06,110.28 311.58,111.41 312.10,111.81 312.61,112.78 313.12,113.78 313.64,114.76 314.15,115.79 314.67,116.44 315.19,116.87 315.70,117.96 316.22,118.80 316.73,119.27 317.25,119.98 317.76,120.61 318.27,121.29 318.79,121.81 319.31,122.87 319.82,123.17 320.34,124.13 320.85,124.42 321.37,125.08 321.88,125.62 322.39,126.02 322.91,126.71 323.43,127.00 323.94,127.51 324.46,128.10 324.97,128.66 325.49,129.11 326.00,129.47 326.51,129.79 327.03,130.11 327.54,129.91 328.06,130.66 328.57,130.94 329.09,131.53 329.61,131.77 330.12,131.96 330.63,132.11 331.15,130.12 331.66,130.91 332.18,132.30 332.69,132.27 333.21,132.34 333.73,134.87 334.24,135.51 334.75,132.75 335.27,134.11 335.78,131.31 336.30,133.50 336.81,135.27 337.33,134.15 337.85,134.31 338.36,130.47 338.88,133.78 339.39,133.93 339.90,132.01 340.42,133.82 340.94,133.65 341.45,136.00 341.97,133.54 342.48,134.06 343.00,134.57 343.51,135.73 344.02,133.45 344.54,134.25 345.06,134.90 345.57,134.21 346.09,134.34 346.60,134.43 347.12,131.85 347.63,133.83 348.14,132.77 348.66,133.55 349.18,132.25 349.69,133.47 350.21,135.27 350.72,133.77 351.24,134.74 351.75,134.26 352.26,134.64 352.78,132.97 353.29,134.44 353.81,133.84 354.32,133.80 354.84,133.70 355.36,135.31 355.87,132.04 356.38,132.16 356.90,134.70 357.41,135.22 357.93,134.36 358.44,136.54 358.96,131.84 359.48,133.59 359.99,134.03 360.50,134.46 361.02,134.13 361.53,133.98 362.05,134.29 362.56,133.67 363.08,133.87 363.60,133.68 364.11,134.87 364.62,133.53 365.14,134.50 365.65,133.92 366.17,135.32 366.69,134.44 367.20,135.63 367.72,133.78 368.23,134.21 368.75,134.45 369.26,134.39 369.77,133.96 370.29,133.14 370.81,134.52 371.32,133.28 371.84,133.73 372.35,133.52 372.87,134.77 373.38,135.34 373.89,133.01 374.41,135.57 374.93,133.07 375.44,133.44 375.96,135.07 376.47,135.67 376.99,132.27 377.50,133.11"/>
<polyline stroke="#0D7A3E" points="194.68,16.14 195.19,16.15 195.70,16.17 196.22,16.18 196.74,16.19 197.25,16.21 197.76,16.22 198.28,16.24 198.80,16.25 199.31,16.27 199.82,16.28 200.34,16.30 200.85,16.31 201.37,16.33 201.88,16.35 202.40,16.36 202.91,16.38 203.43,16.40 203.94,16.42 204.46,16.44 204.97,16.46 205.49,16.48 206.00,16.50 206.52,16.52 207.03,16.54 207.55,16.56 208.06,16.58 208.58,16.61 209.09,16.63 209.61,16.65 210.12,16.68 210.64,16.70 211.16,16.73 211.67,16.75 212.19,16.78 212.70,16.81 213.22,16.84 213.73,16.87 214.25,16.90 214.76,16.92 215.28,16.96 215.79,16.99 216.31,17.02 216.82,17.05 217.34,17.09 217.85,17.12 218.37,17.16 218.88,17.19 219.40,17.23 219.91,17.27 220.43,17.30 220.94,17.34 221.45,17.38 221.97,17.43 222.49,17.47 223.00,17.51 223.51,17.55 224.03,17.60 224.55,17.65 225.06,17.69 225.57,17.74 226.09,17.79 226.61,17.84 227.12,17.89 227.63,17.95 228.15,18.00 228.67,18.06 229.18,18.11 229.69,18.17 230.21,18.23 230.72,18.29 231.24,18.35 231.75,18.41 232.27,18.48 232.78,18.55 233.30,18.61 233.81,18.68 234.33,18.75 234.84,18.83 235.36,18.90 235.88,18.98 236.39,19.05 236.91,19.13 237.42,19.21 237.94,19.30 238.45,19.38 238.97,19.47 239.48,19.56 240.00,19.65 240.51,19.74 241.03,19.83 241.54,19.93 242.06,20.03 242.57,20.13 243.08,20.24 243.60,20.34 244.12,20.45 244.63,20.56 245.14,20.67 245.66,20.79 246.18,20.91 246.69,21.03 247.20,21.15 247.72,21.28 248.24,21.41 248.75,21.54 249.26,21.67 249.78,21.81 250.30,21.95 250.81,22.09 251.32,22.24 251.84,22.39 252.36,22.54 252.87,22.70 253.38,22.86 253.90,23.03 254.42,23.19 254.93,23.36 255.44,23.54 255.96,23.72 256.48,23.90 256.99,24.09 257.50,24.28 258.02,24.47 258.53,24.67 259.05,24.87 259.56,25.08 260.08,25.29 260.60,25.51 261.11,25.73 261.62,25.95 262.14,26.18 262.65,26.42 263.17,26.66 263.69,26.90 264.20,27.15 264.72,27.41 265.23,27.67 265.75,27.93 266.26,28.21 266.77,28.48 267.29,28.77 267.81,29.06 268.32,29.35 268.83,29.65 269.35,29.96 269.87,30.27 270.38,30.59 270.89,30.92 271.41,31.25 271.93,31.59 272.44,31.93 272.95,32.28 273.47,32.64 273.99,33.01 274.50,33.38 275.01,33.77 275.53,34.15 276.04,34.55 276.56,34.95 277.07,35.36 277.59,35.78 278.11,36.21 278.62,36.64 279.13,37.09 279.65,37.54 280.16,38.00 280.68,38.47 281.19,38.94 281.71,39.43 282.23,39.92 282.74,40.43 283.25,40.94 283.77,41.46 284.28,41.99 284.80,42.53 285.31,43.08 285.83,43.64 286.35,44.20 286.86,44.78 287.38,45.37 287.89,45.96 288.40,46.57 288.92,47.19 289.44,47.81 289.95,48.45 290.47,49.10 290.98,49.75 291.50,50.42 292.01,51.09 292.52,51.78 293.04,52.48 293.56,53.18 294.07,53.90 294.59,54.63 295.10,55.36 295.62,56.11 296.13,56.87 296.64,57.64 297.16,58.42 297.68,59.20 298.19,60.00 298.71,60.81 299.22,61.63 299.74,62.45 300.25,63.29 300.76,64.14 301.28,64.99 301.79,65.86 302.31,66.73 302.82,67.61 303.34,68.50 303.86,69.40 304.37,70.31 304.88,71.23 305.40,72.15 305.91,73.08 306.43,74.02 306.94,74.97 307.46,75.92 307.98,76.94 308.49,78.07 309.00,78.84 309.52,79.83 310.03,80.79 310.55,81.64 311.06,82.78 311.58,83.72 312.10,84.67 312.61,85.75 313.12,86.42 313.64,87.68 314.15,88.75 314.67,89.82 315.19,90.90 315.70,91.55 316.22,92.78 316.73,94.01 317.25,94.92 317.76,95.85 318.27,96.91 318.79,97.63 319.31,99.03 319.82,99.72 320.34,100.77 320.85,101.99 321.37,102.74 321.88,103.73 322.39,104.58 322.91,105.71 323.43,106.51 323.94,107.80 324.46,108.62 324.97,109.19 325.49,110.04 326.00,111.12 326.51,112.10 327.03,112.66 327.54,114.08 328.06,114.68 328.57,115.23 329.09,116.04 329.61,117.14 330.12,118.07 330.63,118.21 331.15,119.19 331.66,120.10 332.18,120.63 332.69,121.16 333.21,122.47 333.73,122.44 334.24,123.14 334.75,124.26 335.27,124.34 335.78,125.37 336.30,125.40 336.81,126.06 337.33,126.24 337.85,127.26 338.36,127.62 338.88,127.88 339.39,128.63 339.90,129.06 340.42,129.39 340.94,129.72 341.45,130.26 341.97,130.32 342.48,130.64 343.00,131.03 343.51,131.03 344.02,131.67 344.54,131.63 345.06,132.21 345.57,133.75 346.09,132.68 346.60,133.20 347.12,133.46 347.63,133.55 348.14,133.66 348.66,133.52 349.18,133.74 349.69,132.70 350.21,133.13 350.72,134.15 351.24,133.19 351.75,134.18 352.26,133.90 352.78,133.53 353.29,133.79 353.81,133.89 354.32,135.27 354.84,134.93 355.36,133.43 355.87,134.34 356.38,135.13 356.90,134.12 357.41,133.79 357.93,134.03 358.44,134.64 358.96,135.12 359.48,135.02 359.99,132.64 360.50,133.55 361.02,134.54 361.53,135.34 362.05,134.50 362.56,134.35 363.08,134.46 363.60,135.10 364.11,134.25 364.62,133.93 365.14,135.75 365.65,135.60 366.17,136.01 366.69,135.63 367.20,135.93 367.72,135.01 368.23,134.86 368.75,135.78 369.26,134.79 369.77,135.14 370.29,136.26 370.81,135.26 371.32,134.58 371.84,135.41 372.35,134.23 372.87,134.39 373.38,136.19 373.89,134.81 374.41,134.25 374.93,134.06 375.44,134.97 375.96,135.12 376.47,135.97 376.99,134.94 377.50,134.10"/>
</g>
<g stroke="#1a1a1a" stroke-width="1.6" fill="none"><line x1="171.50" y1="137.0" x2="171.50" y2="141.0"/><line x1="187.00" y1="137.0" x2="187.00" y2="139.0"/><line x1="196.07" y1="137.0" x2="196.07" y2="139.0"/><line x1="202.51" y1="137.0" x2="202.51" y2="139.0"/><line x1="207.50" y1="137.0" x2="207.50" y2="139.0"/><line x1="211.57" y1="137.0" x2="211.57" y2="139.0"/><line x1="215.02" y1="137.0" x2="215.02" y2="139.0"/><line x1="218.01" y1="137.0" x2="218.01" y2="139.0"/><line x1="220.64" y1="137.0" x2="220.64" y2="139.0"/><line x1="223.00" y1="137.0" x2="223.00" y2="141.0"/><line x1="238.50" y1="137.0" x2="238.50" y2="139.0"/><line x1="247.57" y1="137.0" x2="247.57" y2="139.0"/><line x1="254.01" y1="137.0" x2="254.01" y2="139.0"/><line x1="259.00" y1="137.0" x2="259.00" y2="139.0"/><line x1="263.07" y1="137.0" x2="263.07" y2="139.0"/><line x1="266.52" y1="137.0" x2="266.52" y2="139.0"/><line x1="269.51" y1="137.0" x2="269.51" y2="139.0"/><line x1="272.14" y1="137.0" x2="272.14" y2="139.0"/><line x1="274.50" y1="137.0" x2="274.50" y2="141.0"/><line x1="290.00" y1="137.0" x2="290.00" y2="139.0"/><line x1="299.07" y1="137.0" x2="299.07" y2="139.0"/><line x1="305.51" y1="137.0" x2="305.51" y2="139.0"/><line x1="310.50" y1="137.0" x2="310.50" y2="139.0"/><line x1="314.57" y1="137.0" x2="314.57" y2="139.0"/><line x1="318.02" y1="137.0" x2="318.02" y2="139.0"/><line x1="321.01" y1="137.0" x2="321.01" y2="139.0"/><line x1="323.64" y1="137.0" x2="323.64" y2="139.0"/><line x1="326.00" y1="137.0" x2="326.00" y2="141.0"/><line x1="341.50" y1="137.0" x2="341.50" y2="139.0"/><line x1="350.57" y1="137.0" x2="350.57" y2="139.0"/><line x1="357.01" y1="137.0" x2="357.01" y2="139.0"/><line x1="362.00" y1="137.0" x2="362.00" y2="139.0"/><line x1="366.07" y1="137.0" x2="366.07" y2="139.0"/><line x1="369.52" y1="137.0" x2="369.52" y2="139.0"/><line x1="372.51" y1="137.0" x2="372.51" y2="139.0"/><line x1="375.14" y1="137.0" x2="375.14" y2="139.0"/></g>
<g font-family="Liberation Sans, sans-serif" fill="#1a1a1a" stroke="#1a1a1a" stroke-linejoin="round">
<g transform="translate(143.36,142.80) scale(1.07,1)" stroke-width="0.3"><text x="0.00" y="0" font-size="16.3">0</text><text x="9.06" y="0" font-size="16.3">.</text><text x="13.59" y="0" font-size="16.3">0</text></g>
<g transform="translate(143.36,118.52) scale(1.07,1)" stroke-width="0.3"><text x="0.00" y="0" font-size="16.3">0</text><text x="9.06" y="0" font-size="16.3">.</text><text x="13.59" y="0" font-size="16.3">2</text></g>
<g transform="translate(143.36,94.24) scale(1.07,1)" stroke-width="0.3"><text x="0.00" y="0" font-size="16.3">0</text><text x="9.06" y="0" font-size="16.3">.</text><text x="13.59" y="0" font-size="16.3">4</text></g>
<g transform="translate(143.36,69.96) scale(1.07,1)" stroke-width="0.3"><text x="0.00" y="0" font-size="16.3">0</text><text x="9.06" y="0" font-size="16.3">.</text><text x="13.59" y="0" font-size="16.3">6</text></g>
<g transform="translate(143.36,45.68) scale(1.07,1)" stroke-width="0.3"><text x="0.00" y="0" font-size="16.3">0</text><text x="9.06" y="0" font-size="16.3">.</text><text x="13.59" y="0" font-size="16.3">8</text></g>
<g transform="translate(143.36,21.40) scale(1.07,1)" stroke-width="0.3"><path transform="translate(0.00,0) scale(0.00796,-0.00796)" d="M763 0H583V1147Q518 1085 412.5 1023Q307 961 223 930V1104Q374 1175 487 1276Q600 1377 647 1472H763Z" stroke-width="37.7"/><text x="9.06" y="0" font-size="16.3">.</text><text x="13.59" y="0" font-size="16.3">0</text></g>
<g transform="translate(158.32,156.20) scale(1.09,1)" stroke-width="0.3"><path transform="translate(0.00,0) scale(0.00771,-0.00771)" d="M763 0H583V1147Q518 1085 412.5 1023Q307 961 223 930V1104Q374 1175 487 1276Q600 1377 647 1472H763Z" stroke-width="38.9"/><text x="8.78" y="0" font-size="15.8">0</text></g><g transform="translate(176.97,149.40) scale(1.09,1)" stroke-width="0.25"><text x="0.00" y="0" font-size="9.6">-</text><text x="3.20" y="0" font-size="9.6">2</text></g>
<g transform="translate(209.82,156.20) scale(1.09,1)" stroke-width="0.3"><path transform="translate(0.00,0) scale(0.00771,-0.00771)" d="M763 0H583V1147Q518 1085 412.5 1023Q307 961 223 930V1104Q374 1175 487 1276Q600 1377 647 1472H763Z" stroke-width="38.9"/><text x="8.78" y="0" font-size="15.8">0</text></g><g transform="translate(228.47,149.40) scale(1.09,1)" stroke-width="0.25"><text x="0.00" y="0" font-size="9.6">-</text><path transform="translate(3.20,0) scale(0.00469,-0.00469)" d="M763 0H583V1147Q518 1085 412.5 1023Q307 961 223 930V1104Q374 1175 487 1276Q600 1377 647 1472H763Z" stroke-width="53.3"/></g>
<g transform="translate(263.07,156.20) scale(1.09,1)" stroke-width="0.3"><path transform="translate(0.00,0) scale(0.00771,-0.00771)" d="M763 0H583V1147Q518 1085 412.5 1023Q307 961 223 930V1104Q374 1175 487 1276Q600 1377 647 1472H763Z" stroke-width="38.9"/><text x="8.78" y="0" font-size="15.8">0</text></g><g transform="translate(281.72,149.40) scale(1.09,1)" stroke-width="0.25"><text x="0.00" y="0" font-size="9.6">0</text></g>
<g transform="translate(314.57,156.20) scale(1.09,1)" stroke-width="0.3"><path transform="translate(0.00,0) scale(0.00771,-0.00771)" d="M763 0H583V1147Q518 1085 412.5 1023Q307 961 223 930V1104Q374 1175 487 1276Q600 1377 647 1472H763Z" stroke-width="38.9"/><text x="8.78" y="0" font-size="15.8">0</text></g><g transform="translate(333.22,149.40) scale(1.09,1)" stroke-width="0.25"><path transform="translate(0.00,0) scale(0.00469,-0.00469)" d="M763 0H583V1147Q518 1085 412.5 1023Q307 961 223 930V1104Q374 1175 487 1276Q600 1377 647 1472H763Z" stroke-width="53.3"/></g>
<g transform="translate(366.07,156.20) scale(1.09,1)" stroke-width="0.3"><path transform="translate(0.00,0) scale(0.00771,-0.00771)" d="M763 0H583V1147Q518 1085 412.5 1023Q307 961 223 930V1104Q374 1175 487 1276Q600 1377 647 1472H763Z" stroke-width="38.9"/><text x="8.78" y="0" font-size="15.8">0</text></g><g transform="translate(384.72,149.40) scale(1.09,1)" stroke-width="0.25"><text x="0.00" y="0" font-size="9.6">2</text></g>
</g>
<g font-family="Liberation Serif, serif" fill="#1a1a1a">
<text transform="translate(220.8,176) scale(1.15,1)" font-size="21.5" font-style="italic">τ</text>
<text transform="translate(231.0,176) scale(1.1,1)" font-size="20.5" font-style="italic">Q</text>
<text transform="translate(248.2,167.3) scale(1.05,1)" font-size="13.5">2</text>
<path d="M268.3,159.2 H264.9 V181.9 H268.3 M325.6,159.2 H329.2 V181.9 H325.6" fill="none" stroke="#1a1a1a" stroke-width="1.1"/>
<text transform="translate(270,176) scale(1.15,1)" font-size="20.5">s</text>
<path d="M285,161 L278.8,181.5" fill="none" stroke="#1a1a1a" stroke-width="1.1"/>
<text transform="translate(288.3,176) scale(1.05,1)" font-size="21.5" font-style="italic">μ</text>
<text transform="translate(298.8,176) scale(1.06,1)" font-size="20.5">m</text>
<text transform="translate(315.8,167.6) scale(1.1,1)" font-size="14.5">2</text>
<g transform="translate(137.3,108) rotate(-90)">
<text transform="translate(0.5,-4.3) scale(1.0,1)" font-size="20" font-style="italic">f</text>
<text transform="translate(10.3,-1.3) scale(1.0,1)" font-size="26">(</text>
<text transform="translate(23.8,0) scale(1.3,1)" font-size="24.5" font-style="italic">τ</text>
<text transform="translate(33.8,0) scale(1.08,1)" font-size="22" font-style="italic">Q</text>
<text transform="translate(45.8,-11.3) scale(1.0,1)" font-size="16" font-style="italic">2</text>
<text transform="translate(57.3,-1.3) scale(1.0,1)" font-size="26">)</text>
</g>
</g>
<line x1="254" y1="89.3" x2="337" y2="89.3" stroke="#1a1a1a" stroke-width="2.6"/>
<polygon points="345.5,89.3 334,85.2 334,93.4" fill="#1a1a1a"/>
</svg>
</body></html>
